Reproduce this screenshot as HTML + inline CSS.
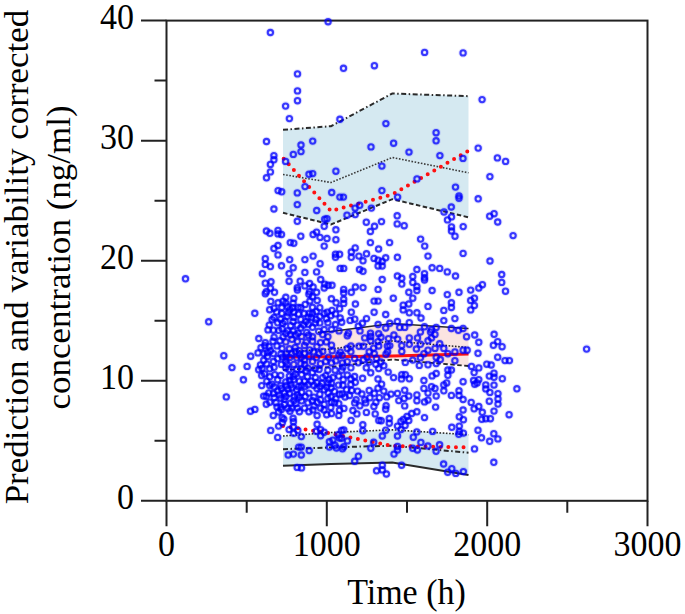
<!DOCTYPE html>
<html><head><meta charset="utf-8"><style>
html,body{margin:0;padding:0;background:#fff;width:685px;height:614px;overflow:hidden}
svg{display:block}
text{font-family:"Liberation Serif",serif}
</style></head><body>
<svg width="685" height="614" viewBox="0 0 685 614">
<g>
<rect x="0" y="0" width="685" height="614" fill="#fff"/>
<polygon points="283.0,129.8 331.0,126.2 392.3,93.5 468.5,96.2 468.5,217.3 392.3,199.2 331.0,224.5 283.0,212.8" fill="#d5e9f1"/>
<polygon points="283.0,334.0 331.0,331.5 392.3,323.5 468.5,328.5 468.5,366.0 392.3,359.5 331.0,367.0 283.0,370.0" fill="#fbe4e1"/>
<polygon points="283.0,436.0 331.0,432.5 392.3,429.8 468.5,434.7 468.5,475.0 392.3,462.5 331.0,464.0 283.0,465.8" fill="#d5e9f1"/>
<polyline points="283.0,129.8 331.0,126.2 392.3,93.5 468.5,96.2" fill="none" stroke="#2a2a2a" stroke-width="2" stroke-dasharray="5 2.5 1.5 2.5"/>
<polyline points="283.0,174.5 331.0,182.5 392.3,157.5 468.5,172.8" fill="none" stroke="#3a3a3a" stroke-width="1.6" stroke-dasharray="1.6 1.6"/>
<polyline points="283.0,212.8 331.0,224.5 392.3,199.2 468.5,217.3" fill="none" stroke="#2a2a2a" stroke-width="2" stroke-dasharray="4.5 2.5"/>
<polyline points="318,332.2 331.0,331.5 392.3,323.5 468.5,328.5" fill="none" stroke="#2a2a2a" stroke-width="1.6"/>
<polyline points="283.0,352.0 331.0,349.0 392.3,341.0 468.5,347.5" fill="none" stroke="#2a2a2a" stroke-width="1.6" stroke-dasharray="1.6 1.6"/>
<polyline points="283.0,370.0 331.0,367.0 392.3,359.5 468.5,366.0" fill="none" stroke="#2a2a2a" stroke-width="1.8" stroke-dasharray="4.5 2.5"/>
<polyline points="283.0,436.0 331.0,432.5 392.3,429.8 468.5,434.7" fill="none" stroke="#2a2a2a" stroke-width="1.6" stroke-dasharray="1.6 1.6"/>
<polyline points="283.0,449.2 331.0,447.4 392.3,445.7 468.5,452.7" fill="none" stroke="#2a2a2a" stroke-width="2" stroke-dasharray="5 2.5 1.5 2.5"/>
<polyline points="283.0,465.8 331.0,464.0 392.3,462.5 468.5,475.0" fill="none" stroke="#2a2a2a" stroke-width="2"/>
<polyline points="283.0,158.0 331.0,211.0 392.3,194.5 468.5,150.8" fill="none" stroke="#ff1010" stroke-width="4" stroke-linecap="round" stroke-dasharray="0 7.6" stroke-dashoffset="-1"/>
<polyline points="283.0,357.0 331.0,356.7 392.3,356.0 468.5,354.0" fill="none" stroke="#ff1010" stroke-width="3"/>
<polyline points="283.0,426.0 331.0,433.5 392.3,446.0 468.5,447.4" fill="none" stroke="#ff1010" stroke-width="4" stroke-linecap="round" stroke-dasharray="0 7.6"/>
<rect x="166.5" y="20.6" width="481.0" height="480.2" fill="none" stroke="#222" stroke-width="2"/>
<path d="M141.0,500.8H166.5M154.5,440.8H166.5M141.0,380.8H166.5M154.5,320.7H166.5M141.0,260.7H166.5M154.5,200.7H166.5M141.0,140.7H166.5M154.5,80.6H166.5M141.0,20.6H166.5M166.5,500.8V526.3M246.7,500.8V512.8M326.8,500.8V526.3M407.0,500.8V512.8M487.2,500.8V526.3M567.3,500.8V512.8M647.5,500.8V526.3" stroke="#222" stroke-width="2" fill="none"/>
<g fill="none" stroke="#0000ff" stroke-opacity="0.12" stroke-width="4.2"><circle cx="270.4" cy="32.5" r="2.65"/><circle cx="328.1" cy="21.7" r="2.65"/><circle cx="343.5" cy="68.3" r="2.65"/><circle cx="297.5" cy="73.9" r="2.65"/><circle cx="297.5" cy="90.9" r="2.65"/><circle cx="297.5" cy="100.7" r="2.65"/><circle cx="285.6" cy="106.1" r="2.65"/><circle cx="374.4" cy="65.7" r="2.65"/><circle cx="424.6" cy="52.4" r="2.65"/><circle cx="463.1" cy="52.9" r="2.65"/><circle cx="482.1" cy="99.6" r="2.65"/><circle cx="289.4" cy="118.6" r="2.65"/><circle cx="266.5" cy="141.5" r="2.65"/><circle cx="312.7" cy="141.1" r="2.65"/><circle cx="301.0" cy="145.0" r="2.65"/><circle cx="301.0" cy="151.6" r="2.65"/><circle cx="293.3" cy="154.4" r="2.65"/><circle cx="273.9" cy="155.6" r="2.65"/><circle cx="273.9" cy="159.8" r="2.65"/><circle cx="285.6" cy="161.4" r="2.65"/><circle cx="270.4" cy="164.4" r="2.65"/><circle cx="270.4" cy="171.9" r="2.65"/><circle cx="266.5" cy="177.8" r="2.65"/><circle cx="309.0" cy="174.3" r="2.65"/><circle cx="312.7" cy="173.6" r="2.65"/><circle cx="305.0" cy="186.6" r="2.65"/><circle cx="278.1" cy="190.6" r="2.65"/><circle cx="281.7" cy="191.8" r="2.65"/><circle cx="297.3" cy="192.9" r="2.65"/><circle cx="297.3" cy="204.6" r="2.65"/><circle cx="273.9" cy="209.0" r="2.65"/><circle cx="316.7" cy="210.5" r="2.65"/><circle cx="339.9" cy="119.3" r="2.65"/><circle cx="385.9" cy="123.6" r="2.65"/><circle cx="371.0" cy="146.9" r="2.65"/><circle cx="393.6" cy="143.2" r="2.65"/><circle cx="436.1" cy="132.7" r="2.65"/><circle cx="436.1" cy="140.8" r="2.65"/><circle cx="409.0" cy="152.1" r="2.65"/><circle cx="439.9" cy="155.6" r="2.65"/><circle cx="463.0" cy="158.4" r="2.65"/><circle cx="381.9" cy="166.1" r="2.65"/><circle cx="335.9" cy="171.2" r="2.65"/><circle cx="417.0" cy="178.9" r="2.65"/><circle cx="455.5" cy="187.1" r="2.65"/><circle cx="381.9" cy="190.6" r="2.65"/><circle cx="331.7" cy="192.5" r="2.65"/><circle cx="339.9" cy="197.1" r="2.65"/><circle cx="343.4" cy="197.1" r="2.65"/><circle cx="397.6" cy="197.1" r="2.65"/><circle cx="459.0" cy="196.0" r="2.65"/><circle cx="459.0" cy="198.3" r="2.65"/><circle cx="451.3" cy="207.0" r="2.65"/><circle cx="359.7" cy="205.3" r="2.65"/><circle cx="355.1" cy="208.1" r="2.65"/><circle cx="371.4" cy="208.1" r="2.65"/><circle cx="478.2" cy="148.1" r="2.65"/><circle cx="497.4" cy="157.9" r="2.65"/><circle cx="505.6" cy="161.4" r="2.65"/><circle cx="489.9" cy="176.6" r="2.65"/><circle cx="478.2" cy="198.8" r="2.65"/><circle cx="297.3" cy="221.3" r="2.65"/><circle cx="324.7" cy="219.3" r="2.65"/><circle cx="327.0" cy="218.7" r="2.65"/><circle cx="324.2" cy="226.3" r="2.65"/><circle cx="266.4" cy="231.0" r="2.65"/><circle cx="269.9" cy="233.3" r="2.65"/><circle cx="278.0" cy="230.4" r="2.65"/><circle cx="281.5" cy="234.5" r="2.65"/><circle cx="278.0" cy="233.9" r="2.65"/><circle cx="300.8" cy="236.2" r="2.65"/><circle cx="313.1" cy="234.5" r="2.65"/><circle cx="316.6" cy="232.1" r="2.65"/><circle cx="320.0" cy="237.4" r="2.65"/><circle cx="327.0" cy="238.5" r="2.65"/><circle cx="290.3" cy="242.6" r="2.65"/><circle cx="293.8" cy="243.2" r="2.65"/><circle cx="278.0" cy="245.5" r="2.65"/><circle cx="273.9" cy="248.5" r="2.65"/><circle cx="324.2" cy="246.1" r="2.65"/><circle cx="185.5" cy="278.8" r="2.65"/><circle cx="208.7" cy="321.8" r="2.65"/><circle cx="254.8" cy="313.3" r="2.65"/><circle cx="262.4" cy="273.7" r="2.65"/><circle cx="265.3" cy="258.7" r="2.65"/><circle cx="265.3" cy="264.4" r="2.65"/><circle cx="265.3" cy="283.2" r="2.65"/><circle cx="265.3" cy="293.7" r="2.65"/><circle cx="258.8" cy="338.5" r="2.65"/><circle cx="278.0" cy="254.9" r="2.65"/><circle cx="270.4" cy="266.6" r="2.65"/><circle cx="289.7" cy="259.6" r="2.65"/><circle cx="304.9" cy="259.6" r="2.65"/><circle cx="313.1" cy="256.1" r="2.65"/><circle cx="281.5" cy="265.8" r="2.65"/><circle cx="293.2" cy="267.8" r="2.65"/><circle cx="289.1" cy="273.6" r="2.65"/><circle cx="304.9" cy="272.4" r="2.65"/><circle cx="320.1" cy="263.7" r="2.65"/><circle cx="316.6" cy="271.9" r="2.65"/><circle cx="289.1" cy="281.2" r="2.65"/><circle cx="271.0" cy="281.8" r="2.65"/><circle cx="270.4" cy="288.2" r="2.65"/><circle cx="266.4" cy="291.7" r="2.65"/><circle cx="274.5" cy="292.3" r="2.65"/><circle cx="300.2" cy="281.2" r="2.65"/><circle cx="297.3" cy="287.6" r="2.65"/><circle cx="304.9" cy="285.9" r="2.65"/><circle cx="309.6" cy="283.5" r="2.65"/><circle cx="313.1" cy="287.0" r="2.65"/><circle cx="309.6" cy="291.7" r="2.65"/><circle cx="316.6" cy="292.3" r="2.65"/><circle cx="320.7" cy="279.5" r="2.65"/><circle cx="324.7" cy="284.1" r="2.65"/><circle cx="328.2" cy="285.3" r="2.65"/><circle cx="347.0" cy="215.2" r="2.65"/><circle cx="355.2" cy="214.6" r="2.65"/><circle cx="335.9" cy="229.8" r="2.65"/><circle cx="366.3" cy="222.2" r="2.65"/><circle cx="381.5" cy="221.6" r="2.65"/><circle cx="374.5" cy="226.3" r="2.65"/><circle cx="370.4" cy="231.5" r="2.65"/><circle cx="397.2" cy="215.8" r="2.65"/><circle cx="397.2" cy="223.9" r="2.65"/><circle cx="404.2" cy="225.7" r="2.65"/><circle cx="335.9" cy="239.7" r="2.65"/><circle cx="370.4" cy="242.6" r="2.65"/><circle cx="389.6" cy="242.6" r="2.65"/><circle cx="355.2" cy="247.9" r="2.65"/><circle cx="378.6" cy="249.0" r="2.65"/><circle cx="444.0" cy="212.0" r="2.65"/><circle cx="451.5" cy="216.9" r="2.65"/><circle cx="447.5" cy="219.9" r="2.65"/><circle cx="451.5" cy="226.9" r="2.65"/><circle cx="451.5" cy="231.0" r="2.65"/><circle cx="455.0" cy="236.2" r="2.65"/><circle cx="463.2" cy="226.6" r="2.65"/><circle cx="420.6" cy="239.1" r="2.65"/><circle cx="424.7" cy="246.1" r="2.65"/><circle cx="489.7" cy="216.2" r="2.65"/><circle cx="494.1" cy="213.7" r="2.65"/><circle cx="497.7" cy="222.0" r="2.65"/><circle cx="513.1" cy="235.6" r="2.65"/><circle cx="490.0" cy="261.0" r="2.65"/><circle cx="501.7" cy="274.5" r="2.65"/><circle cx="501.7" cy="282.4" r="2.65"/><circle cx="505.5" cy="291.2" r="2.65"/><circle cx="482.4" cy="284.7" r="2.65"/><circle cx="478.8" cy="288.0" r="2.65"/><circle cx="470.7" cy="290.1" r="2.65"/><circle cx="474.4" cy="298.2" r="2.65"/><circle cx="470.7" cy="300.4" r="2.65"/><circle cx="474.4" cy="305.5" r="2.65"/><circle cx="470.7" cy="309.9" r="2.65"/><circle cx="428.0" cy="256.1" r="2.65"/><circle cx="463.1" cy="253.4" r="2.65"/><circle cx="416.9" cy="269.5" r="2.65"/><circle cx="412.8" cy="276.5" r="2.65"/><circle cx="424.5" cy="273.6" r="2.65"/><circle cx="424.5" cy="277.7" r="2.65"/><circle cx="424.5" cy="280.0" r="2.65"/><circle cx="432.1" cy="267.8" r="2.65"/><circle cx="439.7" cy="268.4" r="2.65"/><circle cx="447.3" cy="271.9" r="2.65"/><circle cx="455.5" cy="276.0" r="2.65"/><circle cx="401.8" cy="278.3" r="2.65"/><circle cx="401.8" cy="284.1" r="2.65"/><circle cx="412.8" cy="282.4" r="2.65"/><circle cx="416.9" cy="286.5" r="2.65"/><circle cx="416.9" cy="290.5" r="2.65"/><circle cx="408.8" cy="292.3" r="2.65"/><circle cx="432.1" cy="290.5" r="2.65"/><circle cx="447.3" cy="294.6" r="2.65"/><circle cx="459.0" cy="292.3" r="2.65"/><circle cx="335.5" cy="254.3" r="2.65"/><circle cx="339.6" cy="254.3" r="2.65"/><circle cx="335.5" cy="257.3" r="2.65"/><circle cx="351.3" cy="252.0" r="2.65"/><circle cx="351.3" cy="257.3" r="2.65"/><circle cx="358.9" cy="256.1" r="2.65"/><circle cx="366.5" cy="253.8" r="2.65"/><circle cx="363.0" cy="260.8" r="2.65"/><circle cx="374.0" cy="258.4" r="2.65"/><circle cx="378.1" cy="260.2" r="2.65"/><circle cx="385.7" cy="257.8" r="2.65"/><circle cx="382.2" cy="261.4" r="2.65"/><circle cx="378.1" cy="266.0" r="2.65"/><circle cx="382.2" cy="266.0" r="2.65"/><circle cx="397.4" cy="257.3" r="2.65"/><circle cx="340.2" cy="268.4" r="2.65"/><circle cx="343.7" cy="268.4" r="2.65"/><circle cx="359.5" cy="269.5" r="2.65"/><circle cx="363.0" cy="271.3" r="2.65"/><circle cx="382.2" cy="279.5" r="2.65"/><circle cx="397.4" cy="276.0" r="2.65"/><circle cx="332.0" cy="285.3" r="2.65"/><circle cx="343.7" cy="289.4" r="2.65"/><circle cx="343.7" cy="292.9" r="2.65"/><circle cx="351.3" cy="292.3" r="2.65"/><circle cx="355.4" cy="287.0" r="2.65"/><circle cx="363.0" cy="287.6" r="2.65"/><circle cx="378.1" cy="289.4" r="2.65"/><circle cx="285.8" cy="297.3" r="2.65"/><circle cx="293.8" cy="298.4" r="2.65"/><circle cx="278.1" cy="302.8" r="2.65"/><circle cx="285.8" cy="303.1" r="2.65"/><circle cx="293.1" cy="303.1" r="2.65"/><circle cx="281.8" cy="307.5" r="2.65"/><circle cx="269.7" cy="309.7" r="2.65"/><circle cx="274.1" cy="308.2" r="2.65"/><circle cx="289.8" cy="309.7" r="2.65"/><circle cx="276.6" cy="311.9" r="2.65"/><circle cx="281.8" cy="313.4" r="2.65"/><circle cx="293.8" cy="311.9" r="2.65"/><circle cx="274.1" cy="317.4" r="2.65"/><circle cx="287.2" cy="316.3" r="2.65"/><circle cx="293.8" cy="317.4" r="2.65"/><circle cx="280.7" cy="319.2" r="2.65"/><circle cx="298.5" cy="314.1" r="2.65"/><circle cx="298.2" cy="307.5" r="2.65"/><circle cx="297.4" cy="290.0" r="2.65"/><circle cx="277.7" cy="322.8" r="2.65"/><circle cx="285.0" cy="321.4" r="2.65"/><circle cx="293.1" cy="321.4" r="2.65"/><circle cx="331.4" cy="298.8" r="2.65"/><circle cx="336.1" cy="302.8" r="2.65"/><circle cx="343.7" cy="299.3" r="2.65"/><circle cx="343.7" cy="303.4" r="2.65"/><circle cx="355.4" cy="304.0" r="2.65"/><circle cx="374.1" cy="301.1" r="2.65"/><circle cx="378.1" cy="301.1" r="2.65"/><circle cx="393.3" cy="298.2" r="2.65"/><circle cx="403.2" cy="305.2" r="2.65"/><circle cx="403.2" cy="309.9" r="2.65"/><circle cx="327.3" cy="312.2" r="2.65"/><circle cx="332.0" cy="310.4" r="2.65"/><circle cx="339.6" cy="308.7" r="2.65"/><circle cx="335.5" cy="313.9" r="2.65"/><circle cx="340.2" cy="318.0" r="2.65"/><circle cx="351.3" cy="312.2" r="2.65"/><circle cx="374.1" cy="312.2" r="2.65"/><circle cx="385.7" cy="314.5" r="2.65"/><circle cx="366.5" cy="318.6" r="2.65"/><circle cx="354.8" cy="319.2" r="2.65"/><circle cx="350.1" cy="320.4" r="2.65"/><circle cx="327.9" cy="322.7" r="2.65"/><circle cx="335.5" cy="324.5" r="2.65"/><circle cx="362.4" cy="323.3" r="2.65"/><circle cx="358.3" cy="326.2" r="2.65"/><circle cx="378.1" cy="324.5" r="2.65"/><circle cx="389.8" cy="323.3" r="2.65"/><circle cx="397.4" cy="321.5" r="2.65"/><circle cx="385.7" cy="328.0" r="2.65"/><circle cx="399.7" cy="327.4" r="2.65"/><circle cx="327.9" cy="336.7" r="2.65"/><circle cx="339.0" cy="330.9" r="2.65"/><circle cx="348.4" cy="333.2" r="2.65"/><circle cx="360.0" cy="330.9" r="2.65"/><circle cx="370.5" cy="333.2" r="2.65"/><circle cx="378.7" cy="333.8" r="2.65"/><circle cx="393.9" cy="335.0" r="2.65"/><circle cx="381.0" cy="337.3" r="2.65"/><circle cx="364.7" cy="337.9" r="2.65"/><circle cx="412.8" cy="298.2" r="2.65"/><circle cx="408.8" cy="304.0" r="2.65"/><circle cx="409.3" cy="312.8" r="2.65"/><circle cx="416.9" cy="312.8" r="2.65"/><circle cx="421.0" cy="318.0" r="2.65"/><circle cx="428.0" cy="306.4" r="2.65"/><circle cx="451.4" cy="302.8" r="2.65"/><circle cx="451.4" cy="307.5" r="2.65"/><circle cx="443.8" cy="310.4" r="2.65"/><circle cx="454.9" cy="318.6" r="2.65"/><circle cx="443.8" cy="320.6" r="2.65"/><circle cx="409.3" cy="322.7" r="2.65"/><circle cx="404.7" cy="327.4" r="2.65"/><circle cx="424.5" cy="326.8" r="2.65"/><circle cx="420.4" cy="332.0" r="2.65"/><circle cx="431.5" cy="329.7" r="2.65"/><circle cx="436.2" cy="327.4" r="2.65"/><circle cx="435.0" cy="334.4" r="2.65"/><circle cx="451.4" cy="328.5" r="2.65"/><circle cx="458.4" cy="330.3" r="2.65"/><circle cx="463.1" cy="328.5" r="2.65"/><circle cx="466.6" cy="336.7" r="2.65"/><circle cx="474.7" cy="335.0" r="2.65"/><circle cx="409.3" cy="337.9" r="2.65"/><circle cx="417.5" cy="337.9" r="2.65"/><circle cx="431.5" cy="337.9" r="2.65"/><circle cx="478.8" cy="342.3" r="2.65"/><circle cx="478.0" cy="353.3" r="2.65"/><circle cx="494.1" cy="334.3" r="2.65"/><circle cx="497.7" cy="341.6" r="2.65"/><circle cx="493.4" cy="345.3" r="2.65"/><circle cx="502.1" cy="346.7" r="2.65"/><circle cx="497.7" cy="357.2" r="2.65"/><circle cx="505.0" cy="360.6" r="2.65"/><circle cx="509.4" cy="360.6" r="2.65"/><circle cx="486.8" cy="364.2" r="2.65"/><circle cx="491.2" cy="365.0" r="2.65"/><circle cx="471.5" cy="366.4" r="2.65"/><circle cx="478.8" cy="367.9" r="2.65"/><circle cx="586.6" cy="349.1" r="2.65"/><circle cx="516.9" cy="388.8" r="2.65"/><circle cx="509.1" cy="414.7" r="2.65"/><circle cx="502.3" cy="378.7" r="2.65"/><circle cx="474.1" cy="372.6" r="2.65"/><circle cx="494.0" cy="373.2" r="2.65"/><circle cx="489.3" cy="376.1" r="2.65"/><circle cx="494.0" cy="377.3" r="2.65"/><circle cx="478.8" cy="379.6" r="2.65"/><circle cx="474.7" cy="384.3" r="2.65"/><circle cx="485.8" cy="384.9" r="2.65"/><circle cx="494.0" cy="385.1" r="2.65"/><circle cx="485.8" cy="388.9" r="2.65"/><circle cx="489.9" cy="392.4" r="2.65"/><circle cx="498.0" cy="393.6" r="2.65"/><circle cx="498.0" cy="398.9" r="2.65"/><circle cx="498.0" cy="404.1" r="2.65"/><circle cx="489.3" cy="401.2" r="2.65"/><circle cx="471.2" cy="402.4" r="2.65"/><circle cx="474.1" cy="408.8" r="2.65"/><circle cx="478.8" cy="406.5" r="2.65"/><circle cx="482.3" cy="412.3" r="2.65"/><circle cx="494.0" cy="411.1" r="2.65"/><circle cx="481.7" cy="419.3" r="2.65"/><circle cx="485.8" cy="418.7" r="2.65"/><circle cx="490.4" cy="418.7" r="2.65"/><circle cx="459.3" cy="416.8" r="2.65"/><circle cx="463.4" cy="419.7" r="2.65"/><circle cx="451.8" cy="427.3" r="2.65"/><circle cx="459.3" cy="426.1" r="2.65"/><circle cx="459.3" cy="431.4" r="2.65"/><circle cx="463.4" cy="433.1" r="2.65"/><circle cx="458.8" cy="434.3" r="2.65"/><circle cx="478.0" cy="430.2" r="2.65"/><circle cx="481.5" cy="437.8" r="2.65"/><circle cx="489.7" cy="441.3" r="2.65"/><circle cx="493.8" cy="433.7" r="2.65"/><circle cx="497.9" cy="438.9" r="2.65"/><circle cx="474.5" cy="448.9" r="2.65"/><circle cx="493.8" cy="462.3" r="2.65"/><circle cx="451.8" cy="468.7" r="2.65"/><circle cx="455.8" cy="473.4" r="2.65"/><circle cx="463.4" cy="471.6" r="2.65"/><circle cx="409.3" cy="344.3" r="2.65"/><circle cx="401.8" cy="345.5" r="2.65"/><circle cx="401.8" cy="351.4" r="2.65"/><circle cx="420.4" cy="344.3" r="2.65"/><circle cx="416.4" cy="349.0" r="2.65"/><circle cx="428.0" cy="340.8" r="2.65"/><circle cx="439.7" cy="343.8" r="2.65"/><circle cx="428.0" cy="350.2" r="2.65"/><circle cx="435.0" cy="348.4" r="2.65"/><circle cx="443.8" cy="348.4" r="2.65"/><circle cx="423.9" cy="353.7" r="2.65"/><circle cx="447.9" cy="353.7" r="2.65"/><circle cx="454.9" cy="351.9" r="2.65"/><circle cx="463.1" cy="350.2" r="2.65"/><circle cx="467.2" cy="350.2" r="2.65"/><circle cx="405.3" cy="362.4" r="2.65"/><circle cx="412.8" cy="360.1" r="2.65"/><circle cx="420.4" cy="357.8" r="2.65"/><circle cx="419.3" cy="365.4" r="2.65"/><circle cx="428.0" cy="364.8" r="2.65"/><circle cx="436.2" cy="357.2" r="2.65"/><circle cx="440.3" cy="359.5" r="2.65"/><circle cx="436.2" cy="363.6" r="2.65"/><circle cx="454.9" cy="360.7" r="2.65"/><circle cx="447.9" cy="370.0" r="2.65"/><circle cx="451.4" cy="370.0" r="2.65"/><circle cx="447.9" cy="375.3" r="2.65"/><circle cx="432.1" cy="375.9" r="2.65"/><circle cx="436.2" cy="373.5" r="2.65"/><circle cx="405.3" cy="374.7" r="2.65"/><circle cx="409.3" cy="378.8" r="2.65"/><circle cx="401.8" cy="374.7" r="2.65"/><circle cx="423.9" cy="380.5" r="2.65"/><circle cx="446.7" cy="382.9" r="2.65"/><circle cx="463.1" cy="381.7" r="2.65"/><circle cx="473.6" cy="380.5" r="2.65"/><circle cx="477.1" cy="382.9" r="2.65"/><circle cx="423.9" cy="388.4" r="2.65"/><circle cx="431.5" cy="386.7" r="2.65"/><circle cx="435.0" cy="388.4" r="2.65"/><circle cx="443.8" cy="384.9" r="2.65"/><circle cx="443.8" cy="390.8" r="2.65"/><circle cx="428.0" cy="393.1" r="2.65"/><circle cx="436.2" cy="396.0" r="2.65"/><circle cx="404.7" cy="390.2" r="2.65"/><circle cx="404.1" cy="398.4" r="2.65"/><circle cx="408.8" cy="396.0" r="2.65"/><circle cx="416.9" cy="394.9" r="2.65"/><circle cx="416.9" cy="400.7" r="2.65"/><circle cx="424.5" cy="401.9" r="2.65"/><circle cx="428.0" cy="400.1" r="2.65"/><circle cx="404.7" cy="405.9" r="2.65"/><circle cx="435.6" cy="407.1" r="2.65"/><circle cx="451.4" cy="395.4" r="2.65"/><circle cx="459.0" cy="390.8" r="2.65"/><circle cx="459.0" cy="395.4" r="2.65"/><circle cx="463.1" cy="399.5" r="2.65"/><circle cx="416.9" cy="411.8" r="2.65"/><circle cx="411.7" cy="413.5" r="2.65"/><circle cx="407.0" cy="416.5" r="2.65"/><circle cx="403.5" cy="419.4" r="2.65"/><circle cx="408.8" cy="420.5" r="2.65"/><circle cx="424.5" cy="417.6" r="2.65"/><circle cx="463.1" cy="410.0" r="2.65"/><circle cx="389.3" cy="418.5" r="2.65"/><circle cx="389.3" cy="423.2" r="2.65"/><circle cx="381.2" cy="420.8" r="2.65"/><circle cx="401.0" cy="421.4" r="2.65"/><circle cx="405.1" cy="425.5" r="2.65"/><circle cx="397.5" cy="426.1" r="2.65"/><circle cx="401.0" cy="429.6" r="2.65"/><circle cx="385.8" cy="430.2" r="2.65"/><circle cx="382.3" cy="436.0" r="2.65"/><circle cx="397.5" cy="436.0" r="2.65"/><circle cx="416.8" cy="431.9" r="2.65"/><circle cx="413.3" cy="437.2" r="2.65"/><circle cx="432.6" cy="431.4" r="2.65"/><circle cx="420.9" cy="442.4" r="2.65"/><circle cx="427.9" cy="446.0" r="2.65"/><circle cx="439.6" cy="444.8" r="2.65"/><circle cx="436.1" cy="451.2" r="2.65"/><circle cx="412.7" cy="448.3" r="2.65"/><circle cx="417.4" cy="450.0" r="2.65"/><circle cx="397.5" cy="446.5" r="2.65"/><circle cx="397.5" cy="450.0" r="2.65"/><circle cx="394.0" cy="454.1" r="2.65"/><circle cx="382.3" cy="465.2" r="2.65"/><circle cx="382.3" cy="469.9" r="2.65"/><circle cx="386.4" cy="474.0" r="2.65"/><circle cx="401.6" cy="465.2" r="2.65"/><circle cx="443.6" cy="464.0" r="2.65"/><circle cx="447.7" cy="472.2" r="2.65"/><circle cx="223.8" cy="355.7" r="2.65"/><circle cx="250.7" cy="356.2" r="2.65"/><circle cx="258.0" cy="352.9" r="2.65"/><circle cx="232.0" cy="367.6" r="2.65"/><circle cx="247.1" cy="366.4" r="2.65"/><circle cx="243.4" cy="379.8" r="2.65"/><circle cx="226.3" cy="396.9" r="2.65"/><circle cx="262.1" cy="368.4" r="2.65"/><circle cx="263.7" cy="360.3" r="2.65"/><circle cx="263.7" cy="396.1" r="2.65"/><circle cx="250.5" cy="411.2" r="2.65"/><circle cx="254.9" cy="409.4" r="2.65"/><circle cx="266.3" cy="404.2" r="2.65"/><circle cx="266.3" cy="396.3" r="2.65"/><circle cx="273.3" cy="415.5" r="2.65"/><circle cx="278.6" cy="412.0" r="2.65"/><circle cx="270.7" cy="430.4" r="2.65"/><circle cx="277.7" cy="437.4" r="2.65"/><circle cx="278.6" cy="426.1" r="2.65"/><circle cx="283.8" cy="419.1" r="2.65"/><circle cx="290.0" cy="411.2" r="2.65"/><circle cx="293.4" cy="421.7" r="2.65"/><circle cx="293.4" cy="426.9" r="2.65"/><circle cx="289.1" cy="429.6" r="2.65"/><circle cx="301.3" cy="436.6" r="2.65"/><circle cx="297.8" cy="430.4" r="2.65"/><circle cx="298.7" cy="447.1" r="2.65"/><circle cx="301.3" cy="447.1" r="2.65"/><circle cx="288.2" cy="455.0" r="2.65"/><circle cx="293.4" cy="454.1" r="2.65"/><circle cx="301.3" cy="455.0" r="2.65"/><circle cx="309.2" cy="450.6" r="2.65"/><circle cx="317.1" cy="424.3" r="2.65"/><circle cx="320.6" cy="429.6" r="2.65"/><circle cx="316.2" cy="431.3" r="2.65"/><circle cx="320.6" cy="435.7" r="2.65"/><circle cx="324.1" cy="432.2" r="2.65"/><circle cx="317.1" cy="415.5" r="2.65"/><circle cx="326.7" cy="414.7" r="2.65"/><circle cx="329.4" cy="441.8" r="2.65"/><circle cx="332.9" cy="440.1" r="2.65"/><circle cx="338.1" cy="434.8" r="2.65"/><circle cx="341.6" cy="430.4" r="2.65"/><circle cx="341.6" cy="438.3" r="2.65"/><circle cx="329.4" cy="447.1" r="2.65"/><circle cx="336.4" cy="448.0" r="2.65"/><circle cx="342.5" cy="448.8" r="2.65"/><circle cx="354.7" cy="402.9" r="2.65"/><circle cx="359.9" cy="405.8" r="2.65"/><circle cx="365.7" cy="402.9" r="2.65"/><circle cx="375.9" cy="402.2" r="2.65"/><circle cx="386.1" cy="405.8" r="2.65"/><circle cx="356.9" cy="413.9" r="2.65"/><circle cx="366.4" cy="412.4" r="2.65"/><circle cx="375.2" cy="413.9" r="2.65"/><circle cx="351.1" cy="420.4" r="2.65"/><circle cx="362.8" cy="424.8" r="2.65"/><circle cx="362.8" cy="430.7" r="2.65"/><circle cx="378.8" cy="420.4" r="2.65"/><circle cx="343.8" cy="429.9" r="2.65"/><circle cx="339.4" cy="438.0" r="2.65"/><circle cx="347.4" cy="440.9" r="2.65"/><circle cx="343.8" cy="446.7" r="2.65"/><circle cx="335.0" cy="445.3" r="2.65"/><circle cx="373.7" cy="442.3" r="2.65"/><circle cx="370.8" cy="448.2" r="2.65"/><circle cx="358.4" cy="456.2" r="2.65"/><circle cx="354.7" cy="461.3" r="2.65"/><circle cx="376.6" cy="470.8" r="2.65"/><circle cx="301.5" cy="467.9" r="2.65"/><circle cx="282.3" cy="422.8" r="2.65"/><circle cx="293.7" cy="433.3" r="2.65"/><circle cx="297.2" cy="467.4" r="2.65"/><circle cx="277.0" cy="407.0" r="2.65"/><circle cx="281.0" cy="407.0" r="2.65"/><circle cx="322.6" cy="377.6" r="2.65"/><circle cx="327.9" cy="382.9" r="2.65"/><circle cx="373.9" cy="406.5" r="2.65"/><circle cx="352.9" cy="410.5" r="2.65"/><circle cx="391.0" cy="394.1" r="2.65"/><circle cx="397.5" cy="393.4" r="2.65"/><circle cx="398.8" cy="400.6" r="2.65"/><circle cx="385.7" cy="409.2" r="2.65"/><circle cx="393.6" cy="377.6" r="2.65"/><circle cx="401.5" cy="378.9" r="2.65"/><circle cx="308.9" cy="294.2" r="2.65"/><circle cx="312.5" cy="296.8" r="2.65"/><circle cx="324.2" cy="288.0" r="2.65"/><circle cx="305.2" cy="304.4" r="2.65"/><circle cx="300.8" cy="307.7" r="2.65"/><circle cx="312.5" cy="307.3" r="2.65"/><circle cx="319.8" cy="307.7" r="2.65"/><circle cx="312.5" cy="313.5" r="2.65"/><circle cx="308.1" cy="317.2" r="2.65"/><circle cx="300.8" cy="319.4" r="2.65"/><circle cx="324.2" cy="313.5" r="2.65"/><circle cx="319.8" cy="316.5" r="2.65"/><circle cx="316.2" cy="319.4" r="2.65"/><circle cx="326.4" cy="318.7" r="2.65"/><circle cx="330.8" cy="315.7" r="2.65"/><circle cx="306.0" cy="321.6" r="2.65"/><circle cx="282.1" cy="328.8" r="2.65"/><circle cx="273.4" cy="330.2" r="2.65"/><circle cx="293.1" cy="331.0" r="2.65"/><circle cx="285.8" cy="333.5" r="2.65"/><circle cx="298.2" cy="333.1" r="2.65"/><circle cx="274.1" cy="337.2" r="2.65"/><circle cx="265.3" cy="342.6" r="2.65"/><circle cx="279.9" cy="340.8" r="2.65"/><circle cx="285.8" cy="341.9" r="2.65"/><circle cx="292.0" cy="339.3" r="2.65"/><circle cx="297.4" cy="341.5" r="2.65"/><circle cx="277.0" cy="345.9" r="2.65"/><circle cx="282.1" cy="348.5" r="2.65"/><circle cx="289.4" cy="348.8" r="2.65"/><circle cx="295.3" cy="351.4" r="2.65"/><circle cx="261.0" cy="347.7" r="2.65"/><circle cx="263.9" cy="353.6" r="2.65"/><circle cx="270.4" cy="350.7" r="2.65"/><circle cx="273.4" cy="353.6" r="2.65"/><circle cx="286.5" cy="353.6" r="2.65"/><circle cx="319.8" cy="322.9" r="2.65"/><circle cx="341.7" cy="322.2" r="2.65"/><circle cx="300.8" cy="328.0" r="2.65"/><circle cx="312.5" cy="327.3" r="2.65"/><circle cx="324.2" cy="329.5" r="2.65"/><circle cx="331.5" cy="329.5" r="2.65"/><circle cx="306.7" cy="332.4" r="2.65"/><circle cx="312.5" cy="336.8" r="2.65"/><circle cx="301.6" cy="336.4" r="2.65"/><circle cx="322.7" cy="334.6" r="2.65"/><circle cx="304.5" cy="345.5" r="2.65"/><circle cx="312.5" cy="341.2" r="2.65"/><circle cx="320.5" cy="342.6" r="2.65"/><circle cx="316.9" cy="346.6" r="2.65"/><circle cx="331.5" cy="345.2" r="2.65"/><circle cx="326.4" cy="341.9" r="2.65"/><circle cx="299.4" cy="350.7" r="2.65"/><circle cx="309.6" cy="349.9" r="2.65"/><circle cx="322.7" cy="351.4" r="2.65"/><circle cx="332.2" cy="350.7" r="2.65"/><circle cx="340.3" cy="352.1" r="2.65"/><circle cx="304.5" cy="353.6" r="2.65"/><circle cx="347.3" cy="335.7" r="2.65"/><circle cx="370.7" cy="336.5" r="2.65"/><circle cx="350.9" cy="346.0" r="2.65"/><circle cx="359.0" cy="346.3" r="2.65"/><circle cx="363.4" cy="346.3" r="2.65"/><circle cx="370.7" cy="340.8" r="2.65"/><circle cx="378.0" cy="341.6" r="2.65"/><circle cx="378.7" cy="346.0" r="2.65"/><circle cx="387.4" cy="346.0" r="2.65"/><circle cx="347.3" cy="348.5" r="2.65"/><circle cx="350.9" cy="351.8" r="2.65"/><circle cx="373.6" cy="348.1" r="2.65"/><circle cx="369.2" cy="351.8" r="2.65"/><circle cx="374.3" cy="353.6" r="2.65"/><circle cx="386.0" cy="354.3" r="2.65"/><circle cx="342.2" cy="355.4" r="2.65"/><circle cx="354.6" cy="358.4" r="2.65"/><circle cx="367.0" cy="356.9" r="2.65"/><circle cx="376.5" cy="358.4" r="2.65"/><circle cx="347.3" cy="361.6" r="2.65"/><circle cx="358.2" cy="362.7" r="2.65"/><circle cx="363.4" cy="359.8" r="2.65"/><circle cx="369.2" cy="362.0" r="2.65"/><circle cx="380.9" cy="362.0" r="2.65"/><circle cx="375.8" cy="364.2" r="2.65"/><circle cx="383.8" cy="365.7" r="2.65"/><circle cx="342.9" cy="367.1" r="2.65"/><circle cx="350.9" cy="367.8" r="2.65"/><circle cx="366.3" cy="367.8" r="2.65"/><circle cx="378.7" cy="368.6" r="2.65"/><circle cx="267.5" cy="356.4" r="2.65"/><circle cx="273.4" cy="361.5" r="2.65"/><circle cx="277.7" cy="358.6" r="2.65"/><circle cx="285.8" cy="357.1" r="2.65"/><circle cx="285.8" cy="361.5" r="2.65"/><circle cx="296.7" cy="357.8" r="2.65"/><circle cx="269.7" cy="368.8" r="2.65"/><circle cx="274.1" cy="367.3" r="2.65"/><circle cx="281.4" cy="364.4" r="2.65"/><circle cx="285.8" cy="368.1" r="2.65"/><circle cx="296.7" cy="369.5" r="2.65"/><circle cx="293.8" cy="364.4" r="2.65"/><circle cx="264.6" cy="373.9" r="2.65"/><circle cx="269.7" cy="376.8" r="2.65"/><circle cx="274.8" cy="374.6" r="2.65"/><circle cx="280.7" cy="375.4" r="2.65"/><circle cx="289.4" cy="376.1" r="2.65"/><circle cx="295.3" cy="373.9" r="2.65"/><circle cx="266.8" cy="381.2" r="2.65"/><circle cx="277.7" cy="379.7" r="2.65"/><circle cx="285.8" cy="381.9" r="2.65"/><circle cx="293.8" cy="379.7" r="2.65"/><circle cx="271.9" cy="384.1" r="2.65"/><circle cx="280.7" cy="385.6" r="2.65"/><circle cx="290.9" cy="384.8" r="2.65"/><circle cx="299.4" cy="354.2" r="2.65"/><circle cx="308.9" cy="356.4" r="2.65"/><circle cx="319.1" cy="353.5" r="2.65"/><circle cx="328.6" cy="357.1" r="2.65"/><circle cx="338.8" cy="354.9" r="2.65"/><circle cx="304.5" cy="360.0" r="2.65"/><circle cx="312.5" cy="361.5" r="2.65"/><circle cx="320.5" cy="363.7" r="2.65"/><circle cx="325.7" cy="361.5" r="2.65"/><circle cx="331.5" cy="362.9" r="2.65"/><circle cx="335.9" cy="360.8" r="2.65"/><circle cx="342.4" cy="362.9" r="2.65"/><circle cx="300.8" cy="363.7" r="2.65"/><circle cx="305.9" cy="371.0" r="2.65"/><circle cx="312.5" cy="372.4" r="2.65"/><circle cx="319.1" cy="369.5" r="2.65"/><circle cx="327.8" cy="370.2" r="2.65"/><circle cx="335.1" cy="370.2" r="2.65"/><circle cx="341.7" cy="370.2" r="2.65"/><circle cx="301.6" cy="374.6" r="2.65"/><circle cx="307.4" cy="376.8" r="2.65"/><circle cx="315.4" cy="377.5" r="2.65"/><circle cx="333.0" cy="377.5" r="2.65"/><circle cx="338.8" cy="376.1" r="2.65"/><circle cx="343.2" cy="379.7" r="2.65"/><circle cx="299.4" cy="381.2" r="2.65"/><circle cx="304.5" cy="381.2" r="2.65"/><circle cx="311.1" cy="381.2" r="2.65"/><circle cx="316.9" cy="382.7" r="2.65"/><circle cx="322.0" cy="383.4" r="2.65"/><circle cx="331.5" cy="383.4" r="2.65"/><circle cx="301.6" cy="385.6" r="2.65"/><circle cx="370.7" cy="372.8" r="2.65"/><circle cx="347.3" cy="375.0" r="2.65"/><circle cx="354.6" cy="376.5" r="2.65"/><circle cx="362.6" cy="378.3" r="2.65"/><circle cx="350.9" cy="379.0" r="2.65"/><circle cx="378.0" cy="379.0" r="2.65"/><circle cx="381.6" cy="384.2" r="2.65"/><circle cx="350.9" cy="384.5" r="2.65"/><circle cx="342.9" cy="385.2" r="2.65"/><circle cx="355.3" cy="382.3" r="2.65"/><circle cx="346.6" cy="389.6" r="2.65"/><circle cx="351.7" cy="390.4" r="2.65"/><circle cx="361.9" cy="394.0" r="2.65"/><circle cx="369.2" cy="390.4" r="2.65"/><circle cx="374.3" cy="393.3" r="2.65"/><circle cx="378.0" cy="388.2" r="2.65"/><circle cx="383.8" cy="391.1" r="2.65"/><circle cx="342.2" cy="394.0" r="2.65"/><circle cx="349.5" cy="395.5" r="2.65"/><circle cx="357.5" cy="391.1" r="2.65"/><circle cx="369.9" cy="397.7" r="2.65"/><circle cx="379.4" cy="397.7" r="2.65"/><circle cx="386.7" cy="396.9" r="2.65"/><circle cx="388.2" cy="372.1" r="2.65"/><circle cx="356.1" cy="399.8" r="2.65"/><circle cx="364.8" cy="399.8" r="2.65"/><circle cx="269.7" cy="385.5" r="2.65"/><circle cx="274.1" cy="386.9" r="2.65"/><circle cx="281.4" cy="388.4" r="2.65"/><circle cx="288.0" cy="389.1" r="2.65"/><circle cx="296.7" cy="389.8" r="2.65"/><circle cx="273.4" cy="393.5" r="2.65"/><circle cx="279.2" cy="394.9" r="2.65"/><circle cx="289.4" cy="393.5" r="2.65"/><circle cx="284.3" cy="399.3" r="2.65"/><circle cx="284.3" cy="404.4" r="2.65"/><circle cx="281.4" cy="409.5" r="2.65"/><circle cx="297.4" cy="408.1" r="2.65"/><circle cx="293.8" cy="400.8" r="2.65"/><circle cx="297.4" cy="394.9" r="2.65"/><circle cx="282.1" cy="417.6" r="2.65"/><circle cx="293.1" cy="418.3" r="2.65"/><circle cx="308.1" cy="384.7" r="2.65"/><circle cx="316.9" cy="388.4" r="2.65"/><circle cx="324.2" cy="389.8" r="2.65"/><circle cx="301.6" cy="392.4" r="2.65"/><circle cx="308.9" cy="393.1" r="2.65"/><circle cx="319.8" cy="394.2" r="2.65"/><circle cx="328.2" cy="392.8" r="2.65"/><circle cx="339.5" cy="394.2" r="2.65"/><circle cx="305.2" cy="396.4" r="2.65"/><circle cx="301.6" cy="400.8" r="2.65"/><circle cx="312.5" cy="400.8" r="2.65"/><circle cx="320.5" cy="399.7" r="2.65"/><circle cx="327.8" cy="398.6" r="2.65"/><circle cx="335.9" cy="398.6" r="2.65"/><circle cx="331.5" cy="402.2" r="2.65"/><circle cx="324.2" cy="404.4" r="2.65"/><circle cx="338.8" cy="403.7" r="2.65"/><circle cx="304.5" cy="408.1" r="2.65"/><circle cx="314.0" cy="405.9" r="2.65"/><circle cx="320.5" cy="408.1" r="2.65"/><circle cx="330.8" cy="407.4" r="2.65"/><circle cx="339.5" cy="410.3" r="2.65"/><circle cx="299.4" cy="411.7" r="2.65"/><circle cx="308.9" cy="411.7" r="2.65"/><circle cx="331.5" cy="413.6" r="2.65"/><circle cx="338.8" cy="415.4" r="2.65"/><circle cx="430.5" cy="332.1" r="2.65"/><circle cx="388.5" cy="338.6" r="2.65"/><circle cx="397.7" cy="339.1" r="2.65"/><circle cx="389.8" cy="345.6" r="2.65"/><circle cx="387.6" cy="351.8" r="2.65"/><circle cx="270.8" cy="301.4" r="2.65"/><circle cx="283.1" cy="301.1" r="2.65"/><circle cx="309.9" cy="301.0" r="2.65"/><circle cx="317.2" cy="300.5" r="2.65"/><circle cx="287.5" cy="306.7" r="2.65"/><circle cx="292.7" cy="307.8" r="2.65"/><circle cx="288.3" cy="312.7" r="2.65"/><circle cx="304.1" cy="313.5" r="2.65"/><circle cx="309.3" cy="313.3" r="2.65"/><circle cx="316.3" cy="311.6" r="2.65"/><circle cx="272.1" cy="319.7" r="2.65"/><circle cx="311.3" cy="317.4" r="2.65"/><circle cx="269.3" cy="325.1" r="2.65"/><circle cx="282.7" cy="323.4" r="2.65"/><circle cx="290.7" cy="325.7" r="2.65"/><circle cx="297.3" cy="325.2" r="2.65"/><circle cx="303.7" cy="325.0" r="2.65"/><circle cx="308.4" cy="324.3" r="2.65"/><circle cx="315.3" cy="322.9" r="2.65"/><circle cx="268.0" cy="329.9" r="2.65"/><circle cx="278.8" cy="330.4" r="2.65"/><circle cx="287.7" cy="330.8" r="2.65"/><circle cx="318.7" cy="331.3" r="2.65"/><circle cx="283.1" cy="336.7" r="2.65"/><circle cx="290.7" cy="334.7" r="2.65"/><circle cx="295.5" cy="335.0" r="2.65"/><circle cx="308.5" cy="335.3" r="2.65"/><circle cx="273.0" cy="341.3" r="2.65"/><circle cx="306.2" cy="342.0" r="2.65"/><circle cx="264.8" cy="345.8" r="2.65"/><circle cx="269.1" cy="346.7" r="2.65"/><circle cx="295.2" cy="347.5" r="2.65"/><circle cx="267.4" cy="352.6" r="2.65"/><circle cx="280.9" cy="354.0" r="2.65"/><circle cx="291.6" cy="353.4" r="2.65"/><circle cx="313.5" cy="351.8" r="2.65"/><circle cx="282.6" cy="357.1" r="2.65"/><circle cx="289.8" cy="357.4" r="2.65"/><circle cx="301.4" cy="357.3" r="2.65"/><circle cx="316.5" cy="357.6" r="2.65"/><circle cx="260.5" cy="364.9" r="2.65"/><circle cx="266.7" cy="363.9" r="2.65"/><circle cx="287.1" cy="364.3" r="2.65"/><circle cx="304.7" cy="364.6" r="2.65"/><circle cx="258.7" cy="369.7" r="2.65"/><circle cx="288.9" cy="369.5" r="2.65"/><circle cx="301.5" cy="369.2" r="2.65"/><circle cx="307.9" cy="368.1" r="2.65"/><circle cx="315.2" cy="368.7" r="2.65"/><circle cx="261.7" cy="375.6" r="2.65"/><circle cx="293.3" cy="376.3" r="2.65"/><circle cx="325.7" cy="375.6" r="2.65"/><circle cx="289.7" cy="380.5" r="2.65"/><circle cx="329.0" cy="379.4" r="2.65"/><circle cx="261.7" cy="385.6" r="2.65"/><circle cx="286.3" cy="385.8" r="2.65"/><circle cx="292.1" cy="387.8" r="2.65"/><circle cx="298.6" cy="386.7" r="2.65"/><circle cx="304.9" cy="386.6" r="2.65"/><circle cx="313.9" cy="385.4" r="2.65"/><circle cx="320.0" cy="386.5" r="2.65"/><circle cx="326.7" cy="387.1" r="2.65"/><circle cx="331.2" cy="387.7" r="2.65"/><circle cx="338.5" cy="385.1" r="2.65"/><circle cx="268.8" cy="392.9" r="2.65"/><circle cx="277.8" cy="391.0" r="2.65"/><circle cx="284.5" cy="392.8" r="2.65"/><circle cx="334.5" cy="391.4" r="2.65"/><circle cx="274.2" cy="397.6" r="2.65"/><circle cx="280.8" cy="398.2" r="2.65"/><circle cx="285.9" cy="396.4" r="2.65"/><circle cx="294.3" cy="396.7" r="2.65"/><circle cx="299.4" cy="397.3" r="2.65"/><circle cx="313.9" cy="397.1" r="2.65"/><circle cx="331.0" cy="396.8" r="2.65"/><circle cx="345.0" cy="397.0" r="2.65"/><circle cx="269.8" cy="402.2" r="2.65"/><circle cx="276.0" cy="402.7" r="2.65"/><circle cx="290.5" cy="403.2" r="2.65"/><circle cx="296.0" cy="403.5" r="2.65"/><circle cx="307.9" cy="402.8" r="2.65"/><circle cx="317.2" cy="402.3" r="2.65"/><circle cx="334.6" cy="402.7" r="2.65"/><circle cx="287.9" cy="408.3" r="2.65"/><circle cx="291.8" cy="408.1" r="2.65"/><circle cx="312.9" cy="409.9" r="2.65"/><circle cx="324.1" cy="409.9" r="2.65"/><circle cx="343.9" cy="408.4" r="2.65"/></g>
<g fill="none" stroke="#0000ff" stroke-opacity="0.75" stroke-width="2.1"><circle cx="270.4" cy="32.5" r="2.65"/><circle cx="328.1" cy="21.7" r="2.65"/><circle cx="343.5" cy="68.3" r="2.65"/><circle cx="297.5" cy="73.9" r="2.65"/><circle cx="297.5" cy="90.9" r="2.65"/><circle cx="297.5" cy="100.7" r="2.65"/><circle cx="285.6" cy="106.1" r="2.65"/><circle cx="374.4" cy="65.7" r="2.65"/><circle cx="424.6" cy="52.4" r="2.65"/><circle cx="463.1" cy="52.9" r="2.65"/><circle cx="482.1" cy="99.6" r="2.65"/><circle cx="289.4" cy="118.6" r="2.65"/><circle cx="266.5" cy="141.5" r="2.65"/><circle cx="312.7" cy="141.1" r="2.65"/><circle cx="301.0" cy="145.0" r="2.65"/><circle cx="301.0" cy="151.6" r="2.65"/><circle cx="293.3" cy="154.4" r="2.65"/><circle cx="273.9" cy="155.6" r="2.65"/><circle cx="273.9" cy="159.8" r="2.65"/><circle cx="285.6" cy="161.4" r="2.65"/><circle cx="270.4" cy="164.4" r="2.65"/><circle cx="270.4" cy="171.9" r="2.65"/><circle cx="266.5" cy="177.8" r="2.65"/><circle cx="309.0" cy="174.3" r="2.65"/><circle cx="312.7" cy="173.6" r="2.65"/><circle cx="305.0" cy="186.6" r="2.65"/><circle cx="278.1" cy="190.6" r="2.65"/><circle cx="281.7" cy="191.8" r="2.65"/><circle cx="297.3" cy="192.9" r="2.65"/><circle cx="297.3" cy="204.6" r="2.65"/><circle cx="273.9" cy="209.0" r="2.65"/><circle cx="316.7" cy="210.5" r="2.65"/><circle cx="339.9" cy="119.3" r="2.65"/><circle cx="385.9" cy="123.6" r="2.65"/><circle cx="371.0" cy="146.9" r="2.65"/><circle cx="393.6" cy="143.2" r="2.65"/><circle cx="436.1" cy="132.7" r="2.65"/><circle cx="436.1" cy="140.8" r="2.65"/><circle cx="409.0" cy="152.1" r="2.65"/><circle cx="439.9" cy="155.6" r="2.65"/><circle cx="463.0" cy="158.4" r="2.65"/><circle cx="381.9" cy="166.1" r="2.65"/><circle cx="335.9" cy="171.2" r="2.65"/><circle cx="417.0" cy="178.9" r="2.65"/><circle cx="455.5" cy="187.1" r="2.65"/><circle cx="381.9" cy="190.6" r="2.65"/><circle cx="331.7" cy="192.5" r="2.65"/><circle cx="339.9" cy="197.1" r="2.65"/><circle cx="343.4" cy="197.1" r="2.65"/><circle cx="397.6" cy="197.1" r="2.65"/><circle cx="459.0" cy="196.0" r="2.65"/><circle cx="459.0" cy="198.3" r="2.65"/><circle cx="451.3" cy="207.0" r="2.65"/><circle cx="359.7" cy="205.3" r="2.65"/><circle cx="355.1" cy="208.1" r="2.65"/><circle cx="371.4" cy="208.1" r="2.65"/><circle cx="478.2" cy="148.1" r="2.65"/><circle cx="497.4" cy="157.9" r="2.65"/><circle cx="505.6" cy="161.4" r="2.65"/><circle cx="489.9" cy="176.6" r="2.65"/><circle cx="478.2" cy="198.8" r="2.65"/><circle cx="297.3" cy="221.3" r="2.65"/><circle cx="324.7" cy="219.3" r="2.65"/><circle cx="327.0" cy="218.7" r="2.65"/><circle cx="324.2" cy="226.3" r="2.65"/><circle cx="266.4" cy="231.0" r="2.65"/><circle cx="269.9" cy="233.3" r="2.65"/><circle cx="278.0" cy="230.4" r="2.65"/><circle cx="281.5" cy="234.5" r="2.65"/><circle cx="278.0" cy="233.9" r="2.65"/><circle cx="300.8" cy="236.2" r="2.65"/><circle cx="313.1" cy="234.5" r="2.65"/><circle cx="316.6" cy="232.1" r="2.65"/><circle cx="320.0" cy="237.4" r="2.65"/><circle cx="327.0" cy="238.5" r="2.65"/><circle cx="290.3" cy="242.6" r="2.65"/><circle cx="293.8" cy="243.2" r="2.65"/><circle cx="278.0" cy="245.5" r="2.65"/><circle cx="273.9" cy="248.5" r="2.65"/><circle cx="324.2" cy="246.1" r="2.65"/><circle cx="185.5" cy="278.8" r="2.65"/><circle cx="208.7" cy="321.8" r="2.65"/><circle cx="254.8" cy="313.3" r="2.65"/><circle cx="262.4" cy="273.7" r="2.65"/><circle cx="265.3" cy="258.7" r="2.65"/><circle cx="265.3" cy="264.4" r="2.65"/><circle cx="265.3" cy="283.2" r="2.65"/><circle cx="265.3" cy="293.7" r="2.65"/><circle cx="258.8" cy="338.5" r="2.65"/><circle cx="278.0" cy="254.9" r="2.65"/><circle cx="270.4" cy="266.6" r="2.65"/><circle cx="289.7" cy="259.6" r="2.65"/><circle cx="304.9" cy="259.6" r="2.65"/><circle cx="313.1" cy="256.1" r="2.65"/><circle cx="281.5" cy="265.8" r="2.65"/><circle cx="293.2" cy="267.8" r="2.65"/><circle cx="289.1" cy="273.6" r="2.65"/><circle cx="304.9" cy="272.4" r="2.65"/><circle cx="320.1" cy="263.7" r="2.65"/><circle cx="316.6" cy="271.9" r="2.65"/><circle cx="289.1" cy="281.2" r="2.65"/><circle cx="271.0" cy="281.8" r="2.65"/><circle cx="270.4" cy="288.2" r="2.65"/><circle cx="266.4" cy="291.7" r="2.65"/><circle cx="274.5" cy="292.3" r="2.65"/><circle cx="300.2" cy="281.2" r="2.65"/><circle cx="297.3" cy="287.6" r="2.65"/><circle cx="304.9" cy="285.9" r="2.65"/><circle cx="309.6" cy="283.5" r="2.65"/><circle cx="313.1" cy="287.0" r="2.65"/><circle cx="309.6" cy="291.7" r="2.65"/><circle cx="316.6" cy="292.3" r="2.65"/><circle cx="320.7" cy="279.5" r="2.65"/><circle cx="324.7" cy="284.1" r="2.65"/><circle cx="328.2" cy="285.3" r="2.65"/><circle cx="347.0" cy="215.2" r="2.65"/><circle cx="355.2" cy="214.6" r="2.65"/><circle cx="335.9" cy="229.8" r="2.65"/><circle cx="366.3" cy="222.2" r="2.65"/><circle cx="381.5" cy="221.6" r="2.65"/><circle cx="374.5" cy="226.3" r="2.65"/><circle cx="370.4" cy="231.5" r="2.65"/><circle cx="397.2" cy="215.8" r="2.65"/><circle cx="397.2" cy="223.9" r="2.65"/><circle cx="404.2" cy="225.7" r="2.65"/><circle cx="335.9" cy="239.7" r="2.65"/><circle cx="370.4" cy="242.6" r="2.65"/><circle cx="389.6" cy="242.6" r="2.65"/><circle cx="355.2" cy="247.9" r="2.65"/><circle cx="378.6" cy="249.0" r="2.65"/><circle cx="444.0" cy="212.0" r="2.65"/><circle cx="451.5" cy="216.9" r="2.65"/><circle cx="447.5" cy="219.9" r="2.65"/><circle cx="451.5" cy="226.9" r="2.65"/><circle cx="451.5" cy="231.0" r="2.65"/><circle cx="455.0" cy="236.2" r="2.65"/><circle cx="463.2" cy="226.6" r="2.65"/><circle cx="420.6" cy="239.1" r="2.65"/><circle cx="424.7" cy="246.1" r="2.65"/><circle cx="489.7" cy="216.2" r="2.65"/><circle cx="494.1" cy="213.7" r="2.65"/><circle cx="497.7" cy="222.0" r="2.65"/><circle cx="513.1" cy="235.6" r="2.65"/><circle cx="490.0" cy="261.0" r="2.65"/><circle cx="501.7" cy="274.5" r="2.65"/><circle cx="501.7" cy="282.4" r="2.65"/><circle cx="505.5" cy="291.2" r="2.65"/><circle cx="482.4" cy="284.7" r="2.65"/><circle cx="478.8" cy="288.0" r="2.65"/><circle cx="470.7" cy="290.1" r="2.65"/><circle cx="474.4" cy="298.2" r="2.65"/><circle cx="470.7" cy="300.4" r="2.65"/><circle cx="474.4" cy="305.5" r="2.65"/><circle cx="470.7" cy="309.9" r="2.65"/><circle cx="428.0" cy="256.1" r="2.65"/><circle cx="463.1" cy="253.4" r="2.65"/><circle cx="416.9" cy="269.5" r="2.65"/><circle cx="412.8" cy="276.5" r="2.65"/><circle cx="424.5" cy="273.6" r="2.65"/><circle cx="424.5" cy="277.7" r="2.65"/><circle cx="424.5" cy="280.0" r="2.65"/><circle cx="432.1" cy="267.8" r="2.65"/><circle cx="439.7" cy="268.4" r="2.65"/><circle cx="447.3" cy="271.9" r="2.65"/><circle cx="455.5" cy="276.0" r="2.65"/><circle cx="401.8" cy="278.3" r="2.65"/><circle cx="401.8" cy="284.1" r="2.65"/><circle cx="412.8" cy="282.4" r="2.65"/><circle cx="416.9" cy="286.5" r="2.65"/><circle cx="416.9" cy="290.5" r="2.65"/><circle cx="408.8" cy="292.3" r="2.65"/><circle cx="432.1" cy="290.5" r="2.65"/><circle cx="447.3" cy="294.6" r="2.65"/><circle cx="459.0" cy="292.3" r="2.65"/><circle cx="335.5" cy="254.3" r="2.65"/><circle cx="339.6" cy="254.3" r="2.65"/><circle cx="335.5" cy="257.3" r="2.65"/><circle cx="351.3" cy="252.0" r="2.65"/><circle cx="351.3" cy="257.3" r="2.65"/><circle cx="358.9" cy="256.1" r="2.65"/><circle cx="366.5" cy="253.8" r="2.65"/><circle cx="363.0" cy="260.8" r="2.65"/><circle cx="374.0" cy="258.4" r="2.65"/><circle cx="378.1" cy="260.2" r="2.65"/><circle cx="385.7" cy="257.8" r="2.65"/><circle cx="382.2" cy="261.4" r="2.65"/><circle cx="378.1" cy="266.0" r="2.65"/><circle cx="382.2" cy="266.0" r="2.65"/><circle cx="397.4" cy="257.3" r="2.65"/><circle cx="340.2" cy="268.4" r="2.65"/><circle cx="343.7" cy="268.4" r="2.65"/><circle cx="359.5" cy="269.5" r="2.65"/><circle cx="363.0" cy="271.3" r="2.65"/><circle cx="382.2" cy="279.5" r="2.65"/><circle cx="397.4" cy="276.0" r="2.65"/><circle cx="332.0" cy="285.3" r="2.65"/><circle cx="343.7" cy="289.4" r="2.65"/><circle cx="343.7" cy="292.9" r="2.65"/><circle cx="351.3" cy="292.3" r="2.65"/><circle cx="355.4" cy="287.0" r="2.65"/><circle cx="363.0" cy="287.6" r="2.65"/><circle cx="378.1" cy="289.4" r="2.65"/><circle cx="285.8" cy="297.3" r="2.65"/><circle cx="293.8" cy="298.4" r="2.65"/><circle cx="278.1" cy="302.8" r="2.65"/><circle cx="285.8" cy="303.1" r="2.65"/><circle cx="293.1" cy="303.1" r="2.65"/><circle cx="281.8" cy="307.5" r="2.65"/><circle cx="269.7" cy="309.7" r="2.65"/><circle cx="274.1" cy="308.2" r="2.65"/><circle cx="289.8" cy="309.7" r="2.65"/><circle cx="276.6" cy="311.9" r="2.65"/><circle cx="281.8" cy="313.4" r="2.65"/><circle cx="293.8" cy="311.9" r="2.65"/><circle cx="274.1" cy="317.4" r="2.65"/><circle cx="287.2" cy="316.3" r="2.65"/><circle cx="293.8" cy="317.4" r="2.65"/><circle cx="280.7" cy="319.2" r="2.65"/><circle cx="298.5" cy="314.1" r="2.65"/><circle cx="298.2" cy="307.5" r="2.65"/><circle cx="297.4" cy="290.0" r="2.65"/><circle cx="277.7" cy="322.8" r="2.65"/><circle cx="285.0" cy="321.4" r="2.65"/><circle cx="293.1" cy="321.4" r="2.65"/><circle cx="331.4" cy="298.8" r="2.65"/><circle cx="336.1" cy="302.8" r="2.65"/><circle cx="343.7" cy="299.3" r="2.65"/><circle cx="343.7" cy="303.4" r="2.65"/><circle cx="355.4" cy="304.0" r="2.65"/><circle cx="374.1" cy="301.1" r="2.65"/><circle cx="378.1" cy="301.1" r="2.65"/><circle cx="393.3" cy="298.2" r="2.65"/><circle cx="403.2" cy="305.2" r="2.65"/><circle cx="403.2" cy="309.9" r="2.65"/><circle cx="327.3" cy="312.2" r="2.65"/><circle cx="332.0" cy="310.4" r="2.65"/><circle cx="339.6" cy="308.7" r="2.65"/><circle cx="335.5" cy="313.9" r="2.65"/><circle cx="340.2" cy="318.0" r="2.65"/><circle cx="351.3" cy="312.2" r="2.65"/><circle cx="374.1" cy="312.2" r="2.65"/><circle cx="385.7" cy="314.5" r="2.65"/><circle cx="366.5" cy="318.6" r="2.65"/><circle cx="354.8" cy="319.2" r="2.65"/><circle cx="350.1" cy="320.4" r="2.65"/><circle cx="327.9" cy="322.7" r="2.65"/><circle cx="335.5" cy="324.5" r="2.65"/><circle cx="362.4" cy="323.3" r="2.65"/><circle cx="358.3" cy="326.2" r="2.65"/><circle cx="378.1" cy="324.5" r="2.65"/><circle cx="389.8" cy="323.3" r="2.65"/><circle cx="397.4" cy="321.5" r="2.65"/><circle cx="385.7" cy="328.0" r="2.65"/><circle cx="399.7" cy="327.4" r="2.65"/><circle cx="327.9" cy="336.7" r="2.65"/><circle cx="339.0" cy="330.9" r="2.65"/><circle cx="348.4" cy="333.2" r="2.65"/><circle cx="360.0" cy="330.9" r="2.65"/><circle cx="370.5" cy="333.2" r="2.65"/><circle cx="378.7" cy="333.8" r="2.65"/><circle cx="393.9" cy="335.0" r="2.65"/><circle cx="381.0" cy="337.3" r="2.65"/><circle cx="364.7" cy="337.9" r="2.65"/><circle cx="412.8" cy="298.2" r="2.65"/><circle cx="408.8" cy="304.0" r="2.65"/><circle cx="409.3" cy="312.8" r="2.65"/><circle cx="416.9" cy="312.8" r="2.65"/><circle cx="421.0" cy="318.0" r="2.65"/><circle cx="428.0" cy="306.4" r="2.65"/><circle cx="451.4" cy="302.8" r="2.65"/><circle cx="451.4" cy="307.5" r="2.65"/><circle cx="443.8" cy="310.4" r="2.65"/><circle cx="454.9" cy="318.6" r="2.65"/><circle cx="443.8" cy="320.6" r="2.65"/><circle cx="409.3" cy="322.7" r="2.65"/><circle cx="404.7" cy="327.4" r="2.65"/><circle cx="424.5" cy="326.8" r="2.65"/><circle cx="420.4" cy="332.0" r="2.65"/><circle cx="431.5" cy="329.7" r="2.65"/><circle cx="436.2" cy="327.4" r="2.65"/><circle cx="435.0" cy="334.4" r="2.65"/><circle cx="451.4" cy="328.5" r="2.65"/><circle cx="458.4" cy="330.3" r="2.65"/><circle cx="463.1" cy="328.5" r="2.65"/><circle cx="466.6" cy="336.7" r="2.65"/><circle cx="474.7" cy="335.0" r="2.65"/><circle cx="409.3" cy="337.9" r="2.65"/><circle cx="417.5" cy="337.9" r="2.65"/><circle cx="431.5" cy="337.9" r="2.65"/><circle cx="478.8" cy="342.3" r="2.65"/><circle cx="478.0" cy="353.3" r="2.65"/><circle cx="494.1" cy="334.3" r="2.65"/><circle cx="497.7" cy="341.6" r="2.65"/><circle cx="493.4" cy="345.3" r="2.65"/><circle cx="502.1" cy="346.7" r="2.65"/><circle cx="497.7" cy="357.2" r="2.65"/><circle cx="505.0" cy="360.6" r="2.65"/><circle cx="509.4" cy="360.6" r="2.65"/><circle cx="486.8" cy="364.2" r="2.65"/><circle cx="491.2" cy="365.0" r="2.65"/><circle cx="471.5" cy="366.4" r="2.65"/><circle cx="478.8" cy="367.9" r="2.65"/><circle cx="586.6" cy="349.1" r="2.65"/><circle cx="516.9" cy="388.8" r="2.65"/><circle cx="509.1" cy="414.7" r="2.65"/><circle cx="502.3" cy="378.7" r="2.65"/><circle cx="474.1" cy="372.6" r="2.65"/><circle cx="494.0" cy="373.2" r="2.65"/><circle cx="489.3" cy="376.1" r="2.65"/><circle cx="494.0" cy="377.3" r="2.65"/><circle cx="478.8" cy="379.6" r="2.65"/><circle cx="474.7" cy="384.3" r="2.65"/><circle cx="485.8" cy="384.9" r="2.65"/><circle cx="494.0" cy="385.1" r="2.65"/><circle cx="485.8" cy="388.9" r="2.65"/><circle cx="489.9" cy="392.4" r="2.65"/><circle cx="498.0" cy="393.6" r="2.65"/><circle cx="498.0" cy="398.9" r="2.65"/><circle cx="498.0" cy="404.1" r="2.65"/><circle cx="489.3" cy="401.2" r="2.65"/><circle cx="471.2" cy="402.4" r="2.65"/><circle cx="474.1" cy="408.8" r="2.65"/><circle cx="478.8" cy="406.5" r="2.65"/><circle cx="482.3" cy="412.3" r="2.65"/><circle cx="494.0" cy="411.1" r="2.65"/><circle cx="481.7" cy="419.3" r="2.65"/><circle cx="485.8" cy="418.7" r="2.65"/><circle cx="490.4" cy="418.7" r="2.65"/><circle cx="459.3" cy="416.8" r="2.65"/><circle cx="463.4" cy="419.7" r="2.65"/><circle cx="451.8" cy="427.3" r="2.65"/><circle cx="459.3" cy="426.1" r="2.65"/><circle cx="459.3" cy="431.4" r="2.65"/><circle cx="463.4" cy="433.1" r="2.65"/><circle cx="458.8" cy="434.3" r="2.65"/><circle cx="478.0" cy="430.2" r="2.65"/><circle cx="481.5" cy="437.8" r="2.65"/><circle cx="489.7" cy="441.3" r="2.65"/><circle cx="493.8" cy="433.7" r="2.65"/><circle cx="497.9" cy="438.9" r="2.65"/><circle cx="474.5" cy="448.9" r="2.65"/><circle cx="493.8" cy="462.3" r="2.65"/><circle cx="451.8" cy="468.7" r="2.65"/><circle cx="455.8" cy="473.4" r="2.65"/><circle cx="463.4" cy="471.6" r="2.65"/><circle cx="409.3" cy="344.3" r="2.65"/><circle cx="401.8" cy="345.5" r="2.65"/><circle cx="401.8" cy="351.4" r="2.65"/><circle cx="420.4" cy="344.3" r="2.65"/><circle cx="416.4" cy="349.0" r="2.65"/><circle cx="428.0" cy="340.8" r="2.65"/><circle cx="439.7" cy="343.8" r="2.65"/><circle cx="428.0" cy="350.2" r="2.65"/><circle cx="435.0" cy="348.4" r="2.65"/><circle cx="443.8" cy="348.4" r="2.65"/><circle cx="423.9" cy="353.7" r="2.65"/><circle cx="447.9" cy="353.7" r="2.65"/><circle cx="454.9" cy="351.9" r="2.65"/><circle cx="463.1" cy="350.2" r="2.65"/><circle cx="467.2" cy="350.2" r="2.65"/><circle cx="405.3" cy="362.4" r="2.65"/><circle cx="412.8" cy="360.1" r="2.65"/><circle cx="420.4" cy="357.8" r="2.65"/><circle cx="419.3" cy="365.4" r="2.65"/><circle cx="428.0" cy="364.8" r="2.65"/><circle cx="436.2" cy="357.2" r="2.65"/><circle cx="440.3" cy="359.5" r="2.65"/><circle cx="436.2" cy="363.6" r="2.65"/><circle cx="454.9" cy="360.7" r="2.65"/><circle cx="447.9" cy="370.0" r="2.65"/><circle cx="451.4" cy="370.0" r="2.65"/><circle cx="447.9" cy="375.3" r="2.65"/><circle cx="432.1" cy="375.9" r="2.65"/><circle cx="436.2" cy="373.5" r="2.65"/><circle cx="405.3" cy="374.7" r="2.65"/><circle cx="409.3" cy="378.8" r="2.65"/><circle cx="401.8" cy="374.7" r="2.65"/><circle cx="423.9" cy="380.5" r="2.65"/><circle cx="446.7" cy="382.9" r="2.65"/><circle cx="463.1" cy="381.7" r="2.65"/><circle cx="473.6" cy="380.5" r="2.65"/><circle cx="477.1" cy="382.9" r="2.65"/><circle cx="423.9" cy="388.4" r="2.65"/><circle cx="431.5" cy="386.7" r="2.65"/><circle cx="435.0" cy="388.4" r="2.65"/><circle cx="443.8" cy="384.9" r="2.65"/><circle cx="443.8" cy="390.8" r="2.65"/><circle cx="428.0" cy="393.1" r="2.65"/><circle cx="436.2" cy="396.0" r="2.65"/><circle cx="404.7" cy="390.2" r="2.65"/><circle cx="404.1" cy="398.4" r="2.65"/><circle cx="408.8" cy="396.0" r="2.65"/><circle cx="416.9" cy="394.9" r="2.65"/><circle cx="416.9" cy="400.7" r="2.65"/><circle cx="424.5" cy="401.9" r="2.65"/><circle cx="428.0" cy="400.1" r="2.65"/><circle cx="404.7" cy="405.9" r="2.65"/><circle cx="435.6" cy="407.1" r="2.65"/><circle cx="451.4" cy="395.4" r="2.65"/><circle cx="459.0" cy="390.8" r="2.65"/><circle cx="459.0" cy="395.4" r="2.65"/><circle cx="463.1" cy="399.5" r="2.65"/><circle cx="416.9" cy="411.8" r="2.65"/><circle cx="411.7" cy="413.5" r="2.65"/><circle cx="407.0" cy="416.5" r="2.65"/><circle cx="403.5" cy="419.4" r="2.65"/><circle cx="408.8" cy="420.5" r="2.65"/><circle cx="424.5" cy="417.6" r="2.65"/><circle cx="463.1" cy="410.0" r="2.65"/><circle cx="389.3" cy="418.5" r="2.65"/><circle cx="389.3" cy="423.2" r="2.65"/><circle cx="381.2" cy="420.8" r="2.65"/><circle cx="401.0" cy="421.4" r="2.65"/><circle cx="405.1" cy="425.5" r="2.65"/><circle cx="397.5" cy="426.1" r="2.65"/><circle cx="401.0" cy="429.6" r="2.65"/><circle cx="385.8" cy="430.2" r="2.65"/><circle cx="382.3" cy="436.0" r="2.65"/><circle cx="397.5" cy="436.0" r="2.65"/><circle cx="416.8" cy="431.9" r="2.65"/><circle cx="413.3" cy="437.2" r="2.65"/><circle cx="432.6" cy="431.4" r="2.65"/><circle cx="420.9" cy="442.4" r="2.65"/><circle cx="427.9" cy="446.0" r="2.65"/><circle cx="439.6" cy="444.8" r="2.65"/><circle cx="436.1" cy="451.2" r="2.65"/><circle cx="412.7" cy="448.3" r="2.65"/><circle cx="417.4" cy="450.0" r="2.65"/><circle cx="397.5" cy="446.5" r="2.65"/><circle cx="397.5" cy="450.0" r="2.65"/><circle cx="394.0" cy="454.1" r="2.65"/><circle cx="382.3" cy="465.2" r="2.65"/><circle cx="382.3" cy="469.9" r="2.65"/><circle cx="386.4" cy="474.0" r="2.65"/><circle cx="401.6" cy="465.2" r="2.65"/><circle cx="443.6" cy="464.0" r="2.65"/><circle cx="447.7" cy="472.2" r="2.65"/><circle cx="223.8" cy="355.7" r="2.65"/><circle cx="250.7" cy="356.2" r="2.65"/><circle cx="258.0" cy="352.9" r="2.65"/><circle cx="232.0" cy="367.6" r="2.65"/><circle cx="247.1" cy="366.4" r="2.65"/><circle cx="243.4" cy="379.8" r="2.65"/><circle cx="226.3" cy="396.9" r="2.65"/><circle cx="262.1" cy="368.4" r="2.65"/><circle cx="263.7" cy="360.3" r="2.65"/><circle cx="263.7" cy="396.1" r="2.65"/><circle cx="250.5" cy="411.2" r="2.65"/><circle cx="254.9" cy="409.4" r="2.65"/><circle cx="266.3" cy="404.2" r="2.65"/><circle cx="266.3" cy="396.3" r="2.65"/><circle cx="273.3" cy="415.5" r="2.65"/><circle cx="278.6" cy="412.0" r="2.65"/><circle cx="270.7" cy="430.4" r="2.65"/><circle cx="277.7" cy="437.4" r="2.65"/><circle cx="278.6" cy="426.1" r="2.65"/><circle cx="283.8" cy="419.1" r="2.65"/><circle cx="290.0" cy="411.2" r="2.65"/><circle cx="293.4" cy="421.7" r="2.65"/><circle cx="293.4" cy="426.9" r="2.65"/><circle cx="289.1" cy="429.6" r="2.65"/><circle cx="301.3" cy="436.6" r="2.65"/><circle cx="297.8" cy="430.4" r="2.65"/><circle cx="298.7" cy="447.1" r="2.65"/><circle cx="301.3" cy="447.1" r="2.65"/><circle cx="288.2" cy="455.0" r="2.65"/><circle cx="293.4" cy="454.1" r="2.65"/><circle cx="301.3" cy="455.0" r="2.65"/><circle cx="309.2" cy="450.6" r="2.65"/><circle cx="317.1" cy="424.3" r="2.65"/><circle cx="320.6" cy="429.6" r="2.65"/><circle cx="316.2" cy="431.3" r="2.65"/><circle cx="320.6" cy="435.7" r="2.65"/><circle cx="324.1" cy="432.2" r="2.65"/><circle cx="317.1" cy="415.5" r="2.65"/><circle cx="326.7" cy="414.7" r="2.65"/><circle cx="329.4" cy="441.8" r="2.65"/><circle cx="332.9" cy="440.1" r="2.65"/><circle cx="338.1" cy="434.8" r="2.65"/><circle cx="341.6" cy="430.4" r="2.65"/><circle cx="341.6" cy="438.3" r="2.65"/><circle cx="329.4" cy="447.1" r="2.65"/><circle cx="336.4" cy="448.0" r="2.65"/><circle cx="342.5" cy="448.8" r="2.65"/><circle cx="354.7" cy="402.9" r="2.65"/><circle cx="359.9" cy="405.8" r="2.65"/><circle cx="365.7" cy="402.9" r="2.65"/><circle cx="375.9" cy="402.2" r="2.65"/><circle cx="386.1" cy="405.8" r="2.65"/><circle cx="356.9" cy="413.9" r="2.65"/><circle cx="366.4" cy="412.4" r="2.65"/><circle cx="375.2" cy="413.9" r="2.65"/><circle cx="351.1" cy="420.4" r="2.65"/><circle cx="362.8" cy="424.8" r="2.65"/><circle cx="362.8" cy="430.7" r="2.65"/><circle cx="378.8" cy="420.4" r="2.65"/><circle cx="343.8" cy="429.9" r="2.65"/><circle cx="339.4" cy="438.0" r="2.65"/><circle cx="347.4" cy="440.9" r="2.65"/><circle cx="343.8" cy="446.7" r="2.65"/><circle cx="335.0" cy="445.3" r="2.65"/><circle cx="373.7" cy="442.3" r="2.65"/><circle cx="370.8" cy="448.2" r="2.65"/><circle cx="358.4" cy="456.2" r="2.65"/><circle cx="354.7" cy="461.3" r="2.65"/><circle cx="376.6" cy="470.8" r="2.65"/><circle cx="301.5" cy="467.9" r="2.65"/><circle cx="282.3" cy="422.8" r="2.65"/><circle cx="293.7" cy="433.3" r="2.65"/><circle cx="297.2" cy="467.4" r="2.65"/><circle cx="277.0" cy="407.0" r="2.65"/><circle cx="281.0" cy="407.0" r="2.65"/><circle cx="322.6" cy="377.6" r="2.65"/><circle cx="327.9" cy="382.9" r="2.65"/><circle cx="373.9" cy="406.5" r="2.65"/><circle cx="352.9" cy="410.5" r="2.65"/><circle cx="391.0" cy="394.1" r="2.65"/><circle cx="397.5" cy="393.4" r="2.65"/><circle cx="398.8" cy="400.6" r="2.65"/><circle cx="385.7" cy="409.2" r="2.65"/><circle cx="393.6" cy="377.6" r="2.65"/><circle cx="401.5" cy="378.9" r="2.65"/><circle cx="308.9" cy="294.2" r="2.65"/><circle cx="312.5" cy="296.8" r="2.65"/><circle cx="324.2" cy="288.0" r="2.65"/><circle cx="305.2" cy="304.4" r="2.65"/><circle cx="300.8" cy="307.7" r="2.65"/><circle cx="312.5" cy="307.3" r="2.65"/><circle cx="319.8" cy="307.7" r="2.65"/><circle cx="312.5" cy="313.5" r="2.65"/><circle cx="308.1" cy="317.2" r="2.65"/><circle cx="300.8" cy="319.4" r="2.65"/><circle cx="324.2" cy="313.5" r="2.65"/><circle cx="319.8" cy="316.5" r="2.65"/><circle cx="316.2" cy="319.4" r="2.65"/><circle cx="326.4" cy="318.7" r="2.65"/><circle cx="330.8" cy="315.7" r="2.65"/><circle cx="306.0" cy="321.6" r="2.65"/><circle cx="282.1" cy="328.8" r="2.65"/><circle cx="273.4" cy="330.2" r="2.65"/><circle cx="293.1" cy="331.0" r="2.65"/><circle cx="285.8" cy="333.5" r="2.65"/><circle cx="298.2" cy="333.1" r="2.65"/><circle cx="274.1" cy="337.2" r="2.65"/><circle cx="265.3" cy="342.6" r="2.65"/><circle cx="279.9" cy="340.8" r="2.65"/><circle cx="285.8" cy="341.9" r="2.65"/><circle cx="292.0" cy="339.3" r="2.65"/><circle cx="297.4" cy="341.5" r="2.65"/><circle cx="277.0" cy="345.9" r="2.65"/><circle cx="282.1" cy="348.5" r="2.65"/><circle cx="289.4" cy="348.8" r="2.65"/><circle cx="295.3" cy="351.4" r="2.65"/><circle cx="261.0" cy="347.7" r="2.65"/><circle cx="263.9" cy="353.6" r="2.65"/><circle cx="270.4" cy="350.7" r="2.65"/><circle cx="273.4" cy="353.6" r="2.65"/><circle cx="286.5" cy="353.6" r="2.65"/><circle cx="319.8" cy="322.9" r="2.65"/><circle cx="341.7" cy="322.2" r="2.65"/><circle cx="300.8" cy="328.0" r="2.65"/><circle cx="312.5" cy="327.3" r="2.65"/><circle cx="324.2" cy="329.5" r="2.65"/><circle cx="331.5" cy="329.5" r="2.65"/><circle cx="306.7" cy="332.4" r="2.65"/><circle cx="312.5" cy="336.8" r="2.65"/><circle cx="301.6" cy="336.4" r="2.65"/><circle cx="322.7" cy="334.6" r="2.65"/><circle cx="304.5" cy="345.5" r="2.65"/><circle cx="312.5" cy="341.2" r="2.65"/><circle cx="320.5" cy="342.6" r="2.65"/><circle cx="316.9" cy="346.6" r="2.65"/><circle cx="331.5" cy="345.2" r="2.65"/><circle cx="326.4" cy="341.9" r="2.65"/><circle cx="299.4" cy="350.7" r="2.65"/><circle cx="309.6" cy="349.9" r="2.65"/><circle cx="322.7" cy="351.4" r="2.65"/><circle cx="332.2" cy="350.7" r="2.65"/><circle cx="340.3" cy="352.1" r="2.65"/><circle cx="304.5" cy="353.6" r="2.65"/><circle cx="347.3" cy="335.7" r="2.65"/><circle cx="370.7" cy="336.5" r="2.65"/><circle cx="350.9" cy="346.0" r="2.65"/><circle cx="359.0" cy="346.3" r="2.65"/><circle cx="363.4" cy="346.3" r="2.65"/><circle cx="370.7" cy="340.8" r="2.65"/><circle cx="378.0" cy="341.6" r="2.65"/><circle cx="378.7" cy="346.0" r="2.65"/><circle cx="387.4" cy="346.0" r="2.65"/><circle cx="347.3" cy="348.5" r="2.65"/><circle cx="350.9" cy="351.8" r="2.65"/><circle cx="373.6" cy="348.1" r="2.65"/><circle cx="369.2" cy="351.8" r="2.65"/><circle cx="374.3" cy="353.6" r="2.65"/><circle cx="386.0" cy="354.3" r="2.65"/><circle cx="342.2" cy="355.4" r="2.65"/><circle cx="354.6" cy="358.4" r="2.65"/><circle cx="367.0" cy="356.9" r="2.65"/><circle cx="376.5" cy="358.4" r="2.65"/><circle cx="347.3" cy="361.6" r="2.65"/><circle cx="358.2" cy="362.7" r="2.65"/><circle cx="363.4" cy="359.8" r="2.65"/><circle cx="369.2" cy="362.0" r="2.65"/><circle cx="380.9" cy="362.0" r="2.65"/><circle cx="375.8" cy="364.2" r="2.65"/><circle cx="383.8" cy="365.7" r="2.65"/><circle cx="342.9" cy="367.1" r="2.65"/><circle cx="350.9" cy="367.8" r="2.65"/><circle cx="366.3" cy="367.8" r="2.65"/><circle cx="378.7" cy="368.6" r="2.65"/><circle cx="267.5" cy="356.4" r="2.65"/><circle cx="273.4" cy="361.5" r="2.65"/><circle cx="277.7" cy="358.6" r="2.65"/><circle cx="285.8" cy="357.1" r="2.65"/><circle cx="285.8" cy="361.5" r="2.65"/><circle cx="296.7" cy="357.8" r="2.65"/><circle cx="269.7" cy="368.8" r="2.65"/><circle cx="274.1" cy="367.3" r="2.65"/><circle cx="281.4" cy="364.4" r="2.65"/><circle cx="285.8" cy="368.1" r="2.65"/><circle cx="296.7" cy="369.5" r="2.65"/><circle cx="293.8" cy="364.4" r="2.65"/><circle cx="264.6" cy="373.9" r="2.65"/><circle cx="269.7" cy="376.8" r="2.65"/><circle cx="274.8" cy="374.6" r="2.65"/><circle cx="280.7" cy="375.4" r="2.65"/><circle cx="289.4" cy="376.1" r="2.65"/><circle cx="295.3" cy="373.9" r="2.65"/><circle cx="266.8" cy="381.2" r="2.65"/><circle cx="277.7" cy="379.7" r="2.65"/><circle cx="285.8" cy="381.9" r="2.65"/><circle cx="293.8" cy="379.7" r="2.65"/><circle cx="271.9" cy="384.1" r="2.65"/><circle cx="280.7" cy="385.6" r="2.65"/><circle cx="290.9" cy="384.8" r="2.65"/><circle cx="299.4" cy="354.2" r="2.65"/><circle cx="308.9" cy="356.4" r="2.65"/><circle cx="319.1" cy="353.5" r="2.65"/><circle cx="328.6" cy="357.1" r="2.65"/><circle cx="338.8" cy="354.9" r="2.65"/><circle cx="304.5" cy="360.0" r="2.65"/><circle cx="312.5" cy="361.5" r="2.65"/><circle cx="320.5" cy="363.7" r="2.65"/><circle cx="325.7" cy="361.5" r="2.65"/><circle cx="331.5" cy="362.9" r="2.65"/><circle cx="335.9" cy="360.8" r="2.65"/><circle cx="342.4" cy="362.9" r="2.65"/><circle cx="300.8" cy="363.7" r="2.65"/><circle cx="305.9" cy="371.0" r="2.65"/><circle cx="312.5" cy="372.4" r="2.65"/><circle cx="319.1" cy="369.5" r="2.65"/><circle cx="327.8" cy="370.2" r="2.65"/><circle cx="335.1" cy="370.2" r="2.65"/><circle cx="341.7" cy="370.2" r="2.65"/><circle cx="301.6" cy="374.6" r="2.65"/><circle cx="307.4" cy="376.8" r="2.65"/><circle cx="315.4" cy="377.5" r="2.65"/><circle cx="333.0" cy="377.5" r="2.65"/><circle cx="338.8" cy="376.1" r="2.65"/><circle cx="343.2" cy="379.7" r="2.65"/><circle cx="299.4" cy="381.2" r="2.65"/><circle cx="304.5" cy="381.2" r="2.65"/><circle cx="311.1" cy="381.2" r="2.65"/><circle cx="316.9" cy="382.7" r="2.65"/><circle cx="322.0" cy="383.4" r="2.65"/><circle cx="331.5" cy="383.4" r="2.65"/><circle cx="301.6" cy="385.6" r="2.65"/><circle cx="370.7" cy="372.8" r="2.65"/><circle cx="347.3" cy="375.0" r="2.65"/><circle cx="354.6" cy="376.5" r="2.65"/><circle cx="362.6" cy="378.3" r="2.65"/><circle cx="350.9" cy="379.0" r="2.65"/><circle cx="378.0" cy="379.0" r="2.65"/><circle cx="381.6" cy="384.2" r="2.65"/><circle cx="350.9" cy="384.5" r="2.65"/><circle cx="342.9" cy="385.2" r="2.65"/><circle cx="355.3" cy="382.3" r="2.65"/><circle cx="346.6" cy="389.6" r="2.65"/><circle cx="351.7" cy="390.4" r="2.65"/><circle cx="361.9" cy="394.0" r="2.65"/><circle cx="369.2" cy="390.4" r="2.65"/><circle cx="374.3" cy="393.3" r="2.65"/><circle cx="378.0" cy="388.2" r="2.65"/><circle cx="383.8" cy="391.1" r="2.65"/><circle cx="342.2" cy="394.0" r="2.65"/><circle cx="349.5" cy="395.5" r="2.65"/><circle cx="357.5" cy="391.1" r="2.65"/><circle cx="369.9" cy="397.7" r="2.65"/><circle cx="379.4" cy="397.7" r="2.65"/><circle cx="386.7" cy="396.9" r="2.65"/><circle cx="388.2" cy="372.1" r="2.65"/><circle cx="356.1" cy="399.8" r="2.65"/><circle cx="364.8" cy="399.8" r="2.65"/><circle cx="269.7" cy="385.5" r="2.65"/><circle cx="274.1" cy="386.9" r="2.65"/><circle cx="281.4" cy="388.4" r="2.65"/><circle cx="288.0" cy="389.1" r="2.65"/><circle cx="296.7" cy="389.8" r="2.65"/><circle cx="273.4" cy="393.5" r="2.65"/><circle cx="279.2" cy="394.9" r="2.65"/><circle cx="289.4" cy="393.5" r="2.65"/><circle cx="284.3" cy="399.3" r="2.65"/><circle cx="284.3" cy="404.4" r="2.65"/><circle cx="281.4" cy="409.5" r="2.65"/><circle cx="297.4" cy="408.1" r="2.65"/><circle cx="293.8" cy="400.8" r="2.65"/><circle cx="297.4" cy="394.9" r="2.65"/><circle cx="282.1" cy="417.6" r="2.65"/><circle cx="293.1" cy="418.3" r="2.65"/><circle cx="308.1" cy="384.7" r="2.65"/><circle cx="316.9" cy="388.4" r="2.65"/><circle cx="324.2" cy="389.8" r="2.65"/><circle cx="301.6" cy="392.4" r="2.65"/><circle cx="308.9" cy="393.1" r="2.65"/><circle cx="319.8" cy="394.2" r="2.65"/><circle cx="328.2" cy="392.8" r="2.65"/><circle cx="339.5" cy="394.2" r="2.65"/><circle cx="305.2" cy="396.4" r="2.65"/><circle cx="301.6" cy="400.8" r="2.65"/><circle cx="312.5" cy="400.8" r="2.65"/><circle cx="320.5" cy="399.7" r="2.65"/><circle cx="327.8" cy="398.6" r="2.65"/><circle cx="335.9" cy="398.6" r="2.65"/><circle cx="331.5" cy="402.2" r="2.65"/><circle cx="324.2" cy="404.4" r="2.65"/><circle cx="338.8" cy="403.7" r="2.65"/><circle cx="304.5" cy="408.1" r="2.65"/><circle cx="314.0" cy="405.9" r="2.65"/><circle cx="320.5" cy="408.1" r="2.65"/><circle cx="330.8" cy="407.4" r="2.65"/><circle cx="339.5" cy="410.3" r="2.65"/><circle cx="299.4" cy="411.7" r="2.65"/><circle cx="308.9" cy="411.7" r="2.65"/><circle cx="331.5" cy="413.6" r="2.65"/><circle cx="338.8" cy="415.4" r="2.65"/><circle cx="430.5" cy="332.1" r="2.65"/><circle cx="388.5" cy="338.6" r="2.65"/><circle cx="397.7" cy="339.1" r="2.65"/><circle cx="389.8" cy="345.6" r="2.65"/><circle cx="387.6" cy="351.8" r="2.65"/><circle cx="270.8" cy="301.4" r="2.65"/><circle cx="283.1" cy="301.1" r="2.65"/><circle cx="309.9" cy="301.0" r="2.65"/><circle cx="317.2" cy="300.5" r="2.65"/><circle cx="287.5" cy="306.7" r="2.65"/><circle cx="292.7" cy="307.8" r="2.65"/><circle cx="288.3" cy="312.7" r="2.65"/><circle cx="304.1" cy="313.5" r="2.65"/><circle cx="309.3" cy="313.3" r="2.65"/><circle cx="316.3" cy="311.6" r="2.65"/><circle cx="272.1" cy="319.7" r="2.65"/><circle cx="311.3" cy="317.4" r="2.65"/><circle cx="269.3" cy="325.1" r="2.65"/><circle cx="282.7" cy="323.4" r="2.65"/><circle cx="290.7" cy="325.7" r="2.65"/><circle cx="297.3" cy="325.2" r="2.65"/><circle cx="303.7" cy="325.0" r="2.65"/><circle cx="308.4" cy="324.3" r="2.65"/><circle cx="315.3" cy="322.9" r="2.65"/><circle cx="268.0" cy="329.9" r="2.65"/><circle cx="278.8" cy="330.4" r="2.65"/><circle cx="287.7" cy="330.8" r="2.65"/><circle cx="318.7" cy="331.3" r="2.65"/><circle cx="283.1" cy="336.7" r="2.65"/><circle cx="290.7" cy="334.7" r="2.65"/><circle cx="295.5" cy="335.0" r="2.65"/><circle cx="308.5" cy="335.3" r="2.65"/><circle cx="273.0" cy="341.3" r="2.65"/><circle cx="306.2" cy="342.0" r="2.65"/><circle cx="264.8" cy="345.8" r="2.65"/><circle cx="269.1" cy="346.7" r="2.65"/><circle cx="295.2" cy="347.5" r="2.65"/><circle cx="267.4" cy="352.6" r="2.65"/><circle cx="280.9" cy="354.0" r="2.65"/><circle cx="291.6" cy="353.4" r="2.65"/><circle cx="313.5" cy="351.8" r="2.65"/><circle cx="282.6" cy="357.1" r="2.65"/><circle cx="289.8" cy="357.4" r="2.65"/><circle cx="301.4" cy="357.3" r="2.65"/><circle cx="316.5" cy="357.6" r="2.65"/><circle cx="260.5" cy="364.9" r="2.65"/><circle cx="266.7" cy="363.9" r="2.65"/><circle cx="287.1" cy="364.3" r="2.65"/><circle cx="304.7" cy="364.6" r="2.65"/><circle cx="258.7" cy="369.7" r="2.65"/><circle cx="288.9" cy="369.5" r="2.65"/><circle cx="301.5" cy="369.2" r="2.65"/><circle cx="307.9" cy="368.1" r="2.65"/><circle cx="315.2" cy="368.7" r="2.65"/><circle cx="261.7" cy="375.6" r="2.65"/><circle cx="293.3" cy="376.3" r="2.65"/><circle cx="325.7" cy="375.6" r="2.65"/><circle cx="289.7" cy="380.5" r="2.65"/><circle cx="329.0" cy="379.4" r="2.65"/><circle cx="261.7" cy="385.6" r="2.65"/><circle cx="286.3" cy="385.8" r="2.65"/><circle cx="292.1" cy="387.8" r="2.65"/><circle cx="298.6" cy="386.7" r="2.65"/><circle cx="304.9" cy="386.6" r="2.65"/><circle cx="313.9" cy="385.4" r="2.65"/><circle cx="320.0" cy="386.5" r="2.65"/><circle cx="326.7" cy="387.1" r="2.65"/><circle cx="331.2" cy="387.7" r="2.65"/><circle cx="338.5" cy="385.1" r="2.65"/><circle cx="268.8" cy="392.9" r="2.65"/><circle cx="277.8" cy="391.0" r="2.65"/><circle cx="284.5" cy="392.8" r="2.65"/><circle cx="334.5" cy="391.4" r="2.65"/><circle cx="274.2" cy="397.6" r="2.65"/><circle cx="280.8" cy="398.2" r="2.65"/><circle cx="285.9" cy="396.4" r="2.65"/><circle cx="294.3" cy="396.7" r="2.65"/><circle cx="299.4" cy="397.3" r="2.65"/><circle cx="313.9" cy="397.1" r="2.65"/><circle cx="331.0" cy="396.8" r="2.65"/><circle cx="345.0" cy="397.0" r="2.65"/><circle cx="269.8" cy="402.2" r="2.65"/><circle cx="276.0" cy="402.7" r="2.65"/><circle cx="290.5" cy="403.2" r="2.65"/><circle cx="296.0" cy="403.5" r="2.65"/><circle cx="307.9" cy="402.8" r="2.65"/><circle cx="317.2" cy="402.3" r="2.65"/><circle cx="334.6" cy="402.7" r="2.65"/><circle cx="287.9" cy="408.3" r="2.65"/><circle cx="291.8" cy="408.1" r="2.65"/><circle cx="312.9" cy="409.9" r="2.65"/><circle cx="324.1" cy="409.9" r="2.65"/><circle cx="343.9" cy="408.4" r="2.65"/></g>
<text transform="translate(134,508.8) scale(1,1.07)" text-anchor="end" font-family="Liberation Serif" font-size="34" fill="#000">0</text>
<text transform="translate(134,388.8) scale(1,1.07)" text-anchor="end" font-family="Liberation Serif" font-size="34" fill="#000">10</text>
<text transform="translate(134,268.7) scale(1,1.07)" text-anchor="end" font-family="Liberation Serif" font-size="34" fill="#000">20</text>
<text transform="translate(134,148.7) scale(1,1.07)" text-anchor="end" font-family="Liberation Serif" font-size="34" fill="#000">30</text>
<text transform="translate(134,28.6) scale(1,1.07)" text-anchor="end" font-family="Liberation Serif" font-size="34" fill="#000">40</text>
<text transform="translate(166.5,556) scale(1,1.07)" text-anchor="middle" font-family="Liberation Serif" font-size="34" fill="#000">0</text>
<text transform="translate(326.8,556) scale(1,1.07)" text-anchor="middle" font-family="Liberation Serif" font-size="34" fill="#000">1000</text>
<text transform="translate(487.2,556) scale(1,1.07)" text-anchor="middle" font-family="Liberation Serif" font-size="34" fill="#000">2000</text>
<text transform="translate(647.5,556) scale(1,1.07)" text-anchor="middle" font-family="Liberation Serif" font-size="34" fill="#000">3000</text>
<text transform="translate(406.5,604) scale(1,1.07)" text-anchor="middle" font-family="Liberation Serif" font-size="34" fill="#000">Time (h)</text>
<text transform="translate(28,257) scale(1,1.03) rotate(-90)" text-anchor="middle" font-family="Liberation Serif" font-size="34" fill="#000">Prediction and variability corrected</text>
<text transform="translate(69.5,257.5) scale(1,1.03) rotate(-90)" text-anchor="middle" font-family="Liberation Serif" font-size="34" fill="#000">concentration (ng/ml)</text>
</g>
</svg>
</body></html>
